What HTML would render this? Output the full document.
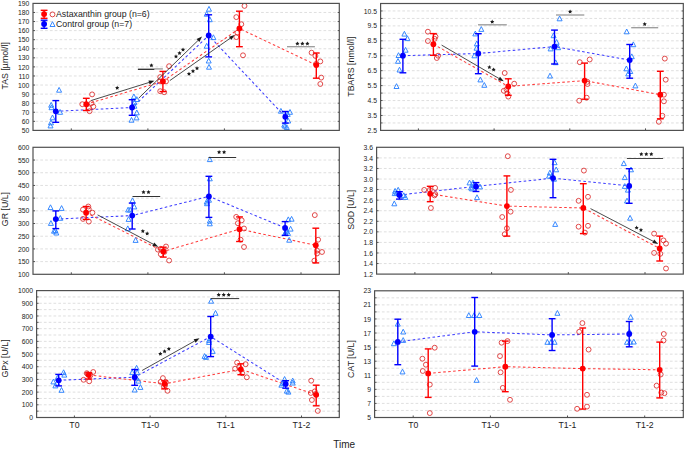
<!DOCTYPE html>
<html><head><meta charset="utf-8"><style>
html,body{margin:0;padding:0;background:#fff;overflow:hidden;}
svg{display:block;font-family:"Liberation Sans", sans-serif;}
</style></head><body>
<svg width="685" height="449" viewBox="0 0 685 449">
<rect width="685" height="449" fill="#fff"/>
<line x1="35.5" y1="121.33" x2="337.8" y2="121.33" stroke="#dbdbdb" stroke-width="0.9" stroke-dasharray="2.7 2.1"/>
<line x1="33.0" y1="121.33" x2="35.0" y2="121.33" stroke="#505050" stroke-width="1"/>
<line x1="337.7" y1="121.33" x2="339.3" y2="121.33" stroke="#505050" stroke-width="1"/>
<line x1="35.5" y1="112.26" x2="337.8" y2="112.26" stroke="#dbdbdb" stroke-width="0.9" stroke-dasharray="2.7 2.1"/>
<line x1="33.0" y1="112.26" x2="35.0" y2="112.26" stroke="#505050" stroke-width="1"/>
<line x1="337.7" y1="112.26" x2="339.3" y2="112.26" stroke="#505050" stroke-width="1"/>
<line x1="35.5" y1="103.19" x2="337.8" y2="103.19" stroke="#dbdbdb" stroke-width="0.9" stroke-dasharray="2.7 2.1"/>
<line x1="33.0" y1="103.19" x2="35.0" y2="103.19" stroke="#505050" stroke-width="1"/>
<line x1="337.7" y1="103.19" x2="339.3" y2="103.19" stroke="#505050" stroke-width="1"/>
<line x1="35.5" y1="94.11" x2="337.8" y2="94.11" stroke="#dbdbdb" stroke-width="0.9" stroke-dasharray="2.7 2.1"/>
<line x1="33.0" y1="94.11" x2="35.0" y2="94.11" stroke="#505050" stroke-width="1"/>
<line x1="337.7" y1="94.11" x2="339.3" y2="94.11" stroke="#505050" stroke-width="1"/>
<line x1="35.5" y1="85.04" x2="337.8" y2="85.04" stroke="#dbdbdb" stroke-width="0.9" stroke-dasharray="2.7 2.1"/>
<line x1="33.0" y1="85.04" x2="35.0" y2="85.04" stroke="#505050" stroke-width="1"/>
<line x1="337.7" y1="85.04" x2="339.3" y2="85.04" stroke="#505050" stroke-width="1"/>
<line x1="35.5" y1="75.97" x2="337.8" y2="75.97" stroke="#dbdbdb" stroke-width="0.9" stroke-dasharray="2.7 2.1"/>
<line x1="33.0" y1="75.97" x2="35.0" y2="75.97" stroke="#505050" stroke-width="1"/>
<line x1="337.7" y1="75.97" x2="339.3" y2="75.97" stroke="#505050" stroke-width="1"/>
<line x1="35.5" y1="66.90" x2="337.8" y2="66.90" stroke="#dbdbdb" stroke-width="0.9" stroke-dasharray="2.7 2.1"/>
<line x1="33.0" y1="66.90" x2="35.0" y2="66.90" stroke="#505050" stroke-width="1"/>
<line x1="337.7" y1="66.90" x2="339.3" y2="66.90" stroke="#505050" stroke-width="1"/>
<line x1="35.5" y1="57.83" x2="337.8" y2="57.83" stroke="#dbdbdb" stroke-width="0.9" stroke-dasharray="2.7 2.1"/>
<line x1="33.0" y1="57.83" x2="35.0" y2="57.83" stroke="#505050" stroke-width="1"/>
<line x1="337.7" y1="57.83" x2="339.3" y2="57.83" stroke="#505050" stroke-width="1"/>
<line x1="35.5" y1="48.76" x2="337.8" y2="48.76" stroke="#dbdbdb" stroke-width="0.9" stroke-dasharray="2.7 2.1"/>
<line x1="33.0" y1="48.76" x2="35.0" y2="48.76" stroke="#505050" stroke-width="1"/>
<line x1="337.7" y1="48.76" x2="339.3" y2="48.76" stroke="#505050" stroke-width="1"/>
<line x1="35.5" y1="39.69" x2="337.8" y2="39.69" stroke="#dbdbdb" stroke-width="0.9" stroke-dasharray="2.7 2.1"/>
<line x1="33.0" y1="39.69" x2="35.0" y2="39.69" stroke="#505050" stroke-width="1"/>
<line x1="337.7" y1="39.69" x2="339.3" y2="39.69" stroke="#505050" stroke-width="1"/>
<line x1="35.5" y1="30.61" x2="337.8" y2="30.61" stroke="#dbdbdb" stroke-width="0.9" stroke-dasharray="2.7 2.1"/>
<line x1="33.0" y1="30.61" x2="35.0" y2="30.61" stroke="#505050" stroke-width="1"/>
<line x1="337.7" y1="30.61" x2="339.3" y2="30.61" stroke="#505050" stroke-width="1"/>
<line x1="35.5" y1="21.54" x2="337.8" y2="21.54" stroke="#dbdbdb" stroke-width="0.9" stroke-dasharray="2.7 2.1"/>
<line x1="33.0" y1="21.54" x2="35.0" y2="21.54" stroke="#505050" stroke-width="1"/>
<line x1="337.7" y1="21.54" x2="339.3" y2="21.54" stroke="#505050" stroke-width="1"/>
<line x1="35.5" y1="12.47" x2="337.8" y2="12.47" stroke="#dbdbdb" stroke-width="0.9" stroke-dasharray="2.7 2.1"/>
<line x1="33.0" y1="12.47" x2="35.0" y2="12.47" stroke="#505050" stroke-width="1"/>
<line x1="337.7" y1="12.47" x2="339.3" y2="12.47" stroke="#505050" stroke-width="1"/>
<text x="29.4" y="133.00" text-anchor="end" font-size="6.8" fill="#1c1c1c">50</text>
<text x="29.4" y="123.93" text-anchor="end" font-size="6.8" fill="#1c1c1c">60</text>
<text x="29.4" y="114.86" text-anchor="end" font-size="6.8" fill="#1c1c1c">70</text>
<text x="29.4" y="105.79" text-anchor="end" font-size="6.8" fill="#1c1c1c">80</text>
<text x="29.4" y="96.71" text-anchor="end" font-size="6.8" fill="#1c1c1c">90</text>
<text x="29.4" y="87.64" text-anchor="end" font-size="6.8" fill="#1c1c1c">100</text>
<text x="29.4" y="78.57" text-anchor="end" font-size="6.8" fill="#1c1c1c">110</text>
<text x="29.4" y="69.50" text-anchor="end" font-size="6.8" fill="#1c1c1c">120</text>
<text x="29.4" y="60.43" text-anchor="end" font-size="6.8" fill="#1c1c1c">130</text>
<text x="29.4" y="51.36" text-anchor="end" font-size="6.8" fill="#1c1c1c">140</text>
<text x="29.4" y="42.29" text-anchor="end" font-size="6.8" fill="#1c1c1c">150</text>
<text x="29.4" y="33.21" text-anchor="end" font-size="6.8" fill="#1c1c1c">160</text>
<text x="29.4" y="24.14" text-anchor="end" font-size="6.8" fill="#1c1c1c">170</text>
<text x="29.4" y="15.07" text-anchor="end" font-size="6.8" fill="#1c1c1c">180</text>
<text x="29.4" y="6.00" text-anchor="end" font-size="6.8" fill="#1c1c1c">190</text>
<line x1="71.3" y1="128.4" x2="71.3" y2="130.4" stroke="#505050" stroke-width="1"/>
<line x1="147.9" y1="128.4" x2="147.9" y2="130.4" stroke="#505050" stroke-width="1"/>
<line x1="224.4" y1="128.4" x2="224.4" y2="130.4" stroke="#505050" stroke-width="1"/>
<line x1="301.0" y1="128.4" x2="301.0" y2="130.4" stroke="#505050" stroke-width="1"/>
<text x="8.4" y="65.8" transform="rotate(-90 8.4 65.8)" text-anchor="middle" font-size="8.8" fill="#1c1c1c">TAS [µmol/l]</text>
<polyline points="55.80,111.30 132.10,107.50 208.70,35.50 285.30,116.80" fill="none" stroke="#3c3cff" stroke-width="1.05" stroke-dasharray="2.6 2.4"/>
<polyline points="86.30,104.20 162.90,81.40 239.40,28.50 316.30,65.10" fill="none" stroke="#ff3c3c" stroke-width="1.05" stroke-dasharray="2.6 2.4"/>
<path d="M59.10 87.40L61.60 92.20L56.60 92.20Z" fill="none" stroke="#2d83ff" stroke-width="0.95" stroke-linejoin="miter"/>
<path d="M51.20 102.40L53.70 107.20L48.70 107.20Z" fill="none" stroke="#2d83ff" stroke-width="0.95" stroke-linejoin="miter"/>
<path d="M51.50 104.90L54.00 109.70L49.00 109.70Z" fill="none" stroke="#2d83ff" stroke-width="0.95" stroke-linejoin="miter"/>
<path d="M60.10 109.50L62.60 114.30L57.60 114.30Z" fill="none" stroke="#2d83ff" stroke-width="0.95" stroke-linejoin="miter"/>
<path d="M52.50 115.00L55.00 119.80L50.00 119.80Z" fill="none" stroke="#2d83ff" stroke-width="0.95" stroke-linejoin="miter"/>
<path d="M51.00 120.00L53.50 124.80L48.50 124.80Z" fill="none" stroke="#2d83ff" stroke-width="0.95" stroke-linejoin="miter"/>
<path d="M50.50 123.10L53.00 127.90L48.00 127.90Z" fill="none" stroke="#2d83ff" stroke-width="0.95" stroke-linejoin="miter"/>
<circle cx="92.10" cy="94.40" r="2.45" fill="none" stroke="#dc2b2b" stroke-width="0.85"/>
<circle cx="82.30" cy="104.20" r="2.45" fill="none" stroke="#dc2b2b" stroke-width="0.85"/>
<circle cx="91.50" cy="103.20" r="2.45" fill="none" stroke="#dc2b2b" stroke-width="0.85"/>
<circle cx="93.30" cy="106.60" r="2.45" fill="none" stroke="#dc2b2b" stroke-width="0.85"/>
<circle cx="89.00" cy="108.10" r="2.45" fill="none" stroke="#dc2b2b" stroke-width="0.85"/>
<circle cx="89.60" cy="111.20" r="2.45" fill="none" stroke="#dc2b2b" stroke-width="0.85"/>
<path d="M133.90 94.00L136.40 98.80L131.40 98.80Z" fill="none" stroke="#2d83ff" stroke-width="0.95" stroke-linejoin="miter"/>
<path d="M136.80 96.70L139.30 101.50L134.30 101.50Z" fill="none" stroke="#2d83ff" stroke-width="0.95" stroke-linejoin="miter"/>
<path d="M134.40 99.90L136.90 104.70L131.90 104.70Z" fill="none" stroke="#2d83ff" stroke-width="0.95" stroke-linejoin="miter"/>
<path d="M134.40 103.40L136.90 108.20L131.90 108.20Z" fill="none" stroke="#2d83ff" stroke-width="0.95" stroke-linejoin="miter"/>
<path d="M136.80 110.00L139.30 114.80L134.30 114.80Z" fill="none" stroke="#2d83ff" stroke-width="0.95" stroke-linejoin="miter"/>
<path d="M136.50 115.10L139.00 119.90L134.00 119.90Z" fill="none" stroke="#2d83ff" stroke-width="0.95" stroke-linejoin="miter"/>
<path d="M131.50 117.40L134.00 122.20L129.00 122.20Z" fill="none" stroke="#2d83ff" stroke-width="0.95" stroke-linejoin="miter"/>
<circle cx="169.10" cy="66.20" r="2.45" fill="none" stroke="#dc2b2b" stroke-width="0.85"/>
<circle cx="160.20" cy="77.10" r="2.45" fill="none" stroke="#dc2b2b" stroke-width="0.85"/>
<circle cx="166.00" cy="81.40" r="2.45" fill="none" stroke="#dc2b2b" stroke-width="0.85"/>
<circle cx="160.00" cy="81.40" r="2.45" fill="none" stroke="#dc2b2b" stroke-width="0.85"/>
<circle cx="160.20" cy="91.20" r="2.45" fill="none" stroke="#dc2b2b" stroke-width="0.85"/>
<circle cx="164.20" cy="92.20" r="2.45" fill="none" stroke="#dc2b2b" stroke-width="0.85"/>
<path d="M209.00 6.40L211.50 11.20L206.50 11.20Z" fill="none" stroke="#2d83ff" stroke-width="0.95" stroke-linejoin="miter"/>
<path d="M206.70 11.40L209.20 16.20L204.20 16.20Z" fill="none" stroke="#2d83ff" stroke-width="0.95" stroke-linejoin="miter"/>
<path d="M209.80 16.90L212.30 21.70L207.30 21.70Z" fill="none" stroke="#2d83ff" stroke-width="0.95" stroke-linejoin="miter"/>
<path d="M213.40 34.80L215.90 39.60L210.90 39.60Z" fill="none" stroke="#2d83ff" stroke-width="0.95" stroke-linejoin="miter"/>
<path d="M206.70 43.40L209.20 48.20L204.20 48.20Z" fill="none" stroke="#2d83ff" stroke-width="0.95" stroke-linejoin="miter"/>
<path d="M208.70 58.20L211.20 63.00L206.20 63.00Z" fill="none" stroke="#2d83ff" stroke-width="0.95" stroke-linejoin="miter"/>
<path d="M209.00 64.40L211.50 69.20L206.50 69.20Z" fill="none" stroke="#2d83ff" stroke-width="0.95" stroke-linejoin="miter"/>
<circle cx="244.50" cy="5.90" r="2.45" fill="none" stroke="#dc2b2b" stroke-width="0.85"/>
<circle cx="236.30" cy="17.10" r="2.45" fill="none" stroke="#dc2b2b" stroke-width="0.85"/>
<circle cx="241.30" cy="24.20" r="2.45" fill="none" stroke="#dc2b2b" stroke-width="0.85"/>
<circle cx="237.40" cy="32.70" r="2.45" fill="none" stroke="#dc2b2b" stroke-width="0.85"/>
<circle cx="236.30" cy="37.10" r="2.45" fill="none" stroke="#dc2b2b" stroke-width="0.85"/>
<circle cx="243.00" cy="55.30" r="2.45" fill="none" stroke="#dc2b2b" stroke-width="0.85"/>
<path d="M280.90 108.40L283.40 113.20L278.40 113.20Z" fill="none" stroke="#2d83ff" stroke-width="0.95" stroke-linejoin="miter"/>
<path d="M290.00 109.50L292.50 114.30L287.50 114.30Z" fill="none" stroke="#2d83ff" stroke-width="0.95" stroke-linejoin="miter"/>
<path d="M287.70 111.60L290.20 116.40L285.20 116.40Z" fill="none" stroke="#2d83ff" stroke-width="0.95" stroke-linejoin="miter"/>
<path d="M288.20 118.20L290.70 123.00L285.70 123.00Z" fill="none" stroke="#2d83ff" stroke-width="0.95" stroke-linejoin="miter"/>
<path d="M284.20 122.30L286.70 127.10L281.70 127.10Z" fill="none" stroke="#2d83ff" stroke-width="0.95" stroke-linejoin="miter"/>
<path d="M286.80 124.70L289.30 129.50L284.30 129.50Z" fill="none" stroke="#2d83ff" stroke-width="0.95" stroke-linejoin="miter"/>
<path d="M285.00 123.40L287.50 128.20L282.50 128.20Z" fill="none" stroke="#2d83ff" stroke-width="0.95" stroke-linejoin="miter"/>
<circle cx="311.60" cy="52.70" r="2.45" fill="none" stroke="#dc2b2b" stroke-width="0.85"/>
<circle cx="315.40" cy="55.90" r="2.45" fill="none" stroke="#dc2b2b" stroke-width="0.85"/>
<circle cx="320.30" cy="61.40" r="2.45" fill="none" stroke="#dc2b2b" stroke-width="0.85"/>
<circle cx="321.20" cy="77.60" r="2.45" fill="none" stroke="#dc2b2b" stroke-width="0.85"/>
<circle cx="320.30" cy="84.00" r="2.45" fill="none" stroke="#dc2b2b" stroke-width="0.85"/>
<circle cx="316.00" cy="64.00" r="2.45" fill="none" stroke="#dc2b2b" stroke-width="0.85"/>
<line x1="55.80" y1="100.60" x2="55.80" y2="122.30" stroke="#0000ff" stroke-width="1.4"/><line x1="52.40" y1="100.60" x2="59.20" y2="100.60" stroke="#0000ff" stroke-width="1.4"/><line x1="52.40" y1="122.30" x2="59.20" y2="122.30" stroke="#0000ff" stroke-width="1.4"/>
<circle cx="55.80" cy="111.30" r="2.9" fill="#0000ff"/>
<line x1="86.30" y1="98.30" x2="86.30" y2="110.50" stroke="#ff0000" stroke-width="1.4"/><line x1="82.90" y1="98.30" x2="89.70" y2="98.30" stroke="#ff0000" stroke-width="1.4"/><line x1="82.90" y1="110.50" x2="89.70" y2="110.50" stroke="#ff0000" stroke-width="1.4"/>
<circle cx="86.30" cy="104.20" r="2.9" fill="#ff0000"/>
<line x1="132.10" y1="99.70" x2="132.10" y2="115.30" stroke="#0000ff" stroke-width="1.4"/><line x1="128.70" y1="99.70" x2="135.50" y2="99.70" stroke="#0000ff" stroke-width="1.4"/><line x1="128.70" y1="115.30" x2="135.50" y2="115.30" stroke="#0000ff" stroke-width="1.4"/>
<circle cx="132.10" cy="107.50" r="2.9" fill="#0000ff"/>
<line x1="162.90" y1="71.40" x2="162.90" y2="91.60" stroke="#ff0000" stroke-width="1.4"/><line x1="159.50" y1="71.40" x2="166.30" y2="71.40" stroke="#ff0000" stroke-width="1.4"/><line x1="159.50" y1="91.60" x2="166.30" y2="91.60" stroke="#ff0000" stroke-width="1.4"/>
<circle cx="162.90" cy="81.40" r="2.9" fill="#ff0000"/>
<line x1="208.70" y1="14.80" x2="208.70" y2="56.90" stroke="#0000ff" stroke-width="1.4"/><line x1="205.30" y1="14.80" x2="212.10" y2="14.80" stroke="#0000ff" stroke-width="1.4"/><line x1="205.30" y1="56.90" x2="212.10" y2="56.90" stroke="#0000ff" stroke-width="1.4"/>
<circle cx="208.70" cy="35.50" r="2.9" fill="#0000ff"/>
<line x1="239.40" y1="11.20" x2="239.40" y2="46.70" stroke="#ff0000" stroke-width="1.4"/><line x1="236.00" y1="11.20" x2="242.80" y2="11.20" stroke="#ff0000" stroke-width="1.4"/><line x1="236.00" y1="46.70" x2="242.80" y2="46.70" stroke="#ff0000" stroke-width="1.4"/>
<circle cx="239.40" cy="28.50" r="2.9" fill="#ff0000"/>
<line x1="285.30" y1="111.50" x2="285.30" y2="123.10" stroke="#0000ff" stroke-width="1.4"/><line x1="281.90" y1="111.50" x2="288.70" y2="111.50" stroke="#0000ff" stroke-width="1.4"/><line x1="281.90" y1="123.10" x2="288.70" y2="123.10" stroke="#0000ff" stroke-width="1.4"/>
<circle cx="285.30" cy="116.80" r="2.9" fill="#0000ff"/>
<line x1="316.30" y1="53.00" x2="316.30" y2="78.20" stroke="#ff0000" stroke-width="1.4"/><line x1="312.90" y1="53.00" x2="319.70" y2="53.00" stroke="#ff0000" stroke-width="1.4"/><line x1="312.90" y1="78.20" x2="319.70" y2="78.20" stroke="#ff0000" stroke-width="1.4"/>
<circle cx="316.30" cy="65.10" r="2.9" fill="#ff0000"/>
<rect x="33.0" y="3.4" width="306.3" height="127.0" fill="none" stroke="#505050" stroke-width="1.2"/>
<line x1="35.5" y1="261.61" x2="337.8" y2="261.61" stroke="#dbdbdb" stroke-width="0.9" stroke-dasharray="2.7 2.1"/>
<line x1="33.0" y1="261.61" x2="35.0" y2="261.61" stroke="#505050" stroke-width="1"/>
<line x1="337.7" y1="261.61" x2="339.3" y2="261.61" stroke="#505050" stroke-width="1"/>
<line x1="35.5" y1="248.91" x2="337.8" y2="248.91" stroke="#dbdbdb" stroke-width="0.9" stroke-dasharray="2.7 2.1"/>
<line x1="33.0" y1="248.91" x2="35.0" y2="248.91" stroke="#505050" stroke-width="1"/>
<line x1="337.7" y1="248.91" x2="339.3" y2="248.91" stroke="#505050" stroke-width="1"/>
<line x1="35.5" y1="236.22" x2="337.8" y2="236.22" stroke="#dbdbdb" stroke-width="0.9" stroke-dasharray="2.7 2.1"/>
<line x1="33.0" y1="236.22" x2="35.0" y2="236.22" stroke="#505050" stroke-width="1"/>
<line x1="337.7" y1="236.22" x2="339.3" y2="236.22" stroke="#505050" stroke-width="1"/>
<line x1="35.5" y1="223.52" x2="337.8" y2="223.52" stroke="#dbdbdb" stroke-width="0.9" stroke-dasharray="2.7 2.1"/>
<line x1="33.0" y1="223.52" x2="35.0" y2="223.52" stroke="#505050" stroke-width="1"/>
<line x1="337.7" y1="223.52" x2="339.3" y2="223.52" stroke="#505050" stroke-width="1"/>
<line x1="35.5" y1="210.82" x2="337.8" y2="210.82" stroke="#dbdbdb" stroke-width="0.9" stroke-dasharray="2.7 2.1"/>
<line x1="33.0" y1="210.82" x2="35.0" y2="210.82" stroke="#505050" stroke-width="1"/>
<line x1="337.7" y1="210.82" x2="339.3" y2="210.82" stroke="#505050" stroke-width="1"/>
<line x1="35.5" y1="198.13" x2="337.8" y2="198.13" stroke="#dbdbdb" stroke-width="0.9" stroke-dasharray="2.7 2.1"/>
<line x1="33.0" y1="198.13" x2="35.0" y2="198.13" stroke="#505050" stroke-width="1"/>
<line x1="337.7" y1="198.13" x2="339.3" y2="198.13" stroke="#505050" stroke-width="1"/>
<line x1="35.5" y1="185.44" x2="337.8" y2="185.44" stroke="#dbdbdb" stroke-width="0.9" stroke-dasharray="2.7 2.1"/>
<line x1="33.0" y1="185.44" x2="35.0" y2="185.44" stroke="#505050" stroke-width="1"/>
<line x1="337.7" y1="185.44" x2="339.3" y2="185.44" stroke="#505050" stroke-width="1"/>
<line x1="35.5" y1="172.74" x2="337.8" y2="172.74" stroke="#dbdbdb" stroke-width="0.9" stroke-dasharray="2.7 2.1"/>
<line x1="33.0" y1="172.74" x2="35.0" y2="172.74" stroke="#505050" stroke-width="1"/>
<line x1="337.7" y1="172.74" x2="339.3" y2="172.74" stroke="#505050" stroke-width="1"/>
<line x1="35.5" y1="160.04" x2="337.8" y2="160.04" stroke="#dbdbdb" stroke-width="0.9" stroke-dasharray="2.7 2.1"/>
<line x1="33.0" y1="160.04" x2="35.0" y2="160.04" stroke="#505050" stroke-width="1"/>
<line x1="337.7" y1="160.04" x2="339.3" y2="160.04" stroke="#505050" stroke-width="1"/>
<text x="29.4" y="276.90" text-anchor="end" font-size="6.8" fill="#1c1c1c">100</text>
<text x="29.4" y="264.21" text-anchor="end" font-size="6.8" fill="#1c1c1c">150</text>
<text x="29.4" y="251.51" text-anchor="end" font-size="6.8" fill="#1c1c1c">200</text>
<text x="29.4" y="238.81" text-anchor="end" font-size="6.8" fill="#1c1c1c">250</text>
<text x="29.4" y="226.12" text-anchor="end" font-size="6.8" fill="#1c1c1c">300</text>
<text x="29.4" y="213.42" text-anchor="end" font-size="6.8" fill="#1c1c1c">350</text>
<text x="29.4" y="200.73" text-anchor="end" font-size="6.8" fill="#1c1c1c">400</text>
<text x="29.4" y="188.03" text-anchor="end" font-size="6.8" fill="#1c1c1c">450</text>
<text x="29.4" y="175.34" text-anchor="end" font-size="6.8" fill="#1c1c1c">500</text>
<text x="29.4" y="162.64" text-anchor="end" font-size="6.8" fill="#1c1c1c">550</text>
<text x="29.4" y="149.95" text-anchor="end" font-size="6.8" fill="#1c1c1c">600</text>
<line x1="71.3" y1="272.3" x2="71.3" y2="274.3" stroke="#505050" stroke-width="1"/>
<line x1="147.9" y1="272.3" x2="147.9" y2="274.3" stroke="#505050" stroke-width="1"/>
<line x1="224.4" y1="272.3" x2="224.4" y2="274.3" stroke="#505050" stroke-width="1"/>
<line x1="301.0" y1="272.3" x2="301.0" y2="274.3" stroke="#505050" stroke-width="1"/>
<text x="8.4" y="209.1" transform="rotate(-90 8.4 209.1)" text-anchor="middle" font-size="8.8" fill="#1c1c1c">GR [U/L]</text>
<polyline points="55.80,219.10 132.20,215.60 208.90,196.40 285.10,227.90" fill="none" stroke="#3c3cff" stroke-width="1.05" stroke-dasharray="2.6 2.4"/>
<polyline points="86.10,212.70 163.30,251.40 239.50,229.20 315.80,245.20" fill="none" stroke="#ff3c3c" stroke-width="1.05" stroke-dasharray="2.6 2.4"/>
<path d="M50.50 204.80L53.00 209.60L48.00 209.60Z" fill="none" stroke="#2d83ff" stroke-width="0.95" stroke-linejoin="miter"/>
<path d="M61.60 205.60L64.10 210.40L59.10 210.40Z" fill="none" stroke="#2d83ff" stroke-width="0.95" stroke-linejoin="miter"/>
<path d="M60.30 215.50L62.80 220.30L57.80 220.30Z" fill="none" stroke="#2d83ff" stroke-width="0.95" stroke-linejoin="miter"/>
<path d="M50.90 220.60L53.40 225.40L48.40 225.40Z" fill="none" stroke="#2d83ff" stroke-width="0.95" stroke-linejoin="miter"/>
<path d="M54.00 228.40L56.50 233.20L51.50 233.20Z" fill="none" stroke="#2d83ff" stroke-width="0.95" stroke-linejoin="miter"/>
<path d="M56.30 230.20L58.80 235.00L53.80 235.00Z" fill="none" stroke="#2d83ff" stroke-width="0.95" stroke-linejoin="miter"/>
<path d="M55.40 227.90L57.90 232.70L52.90 232.70Z" fill="none" stroke="#2d83ff" stroke-width="0.95" stroke-linejoin="miter"/>
<circle cx="83.00" cy="209.60" r="2.45" fill="none" stroke="#dc2b2b" stroke-width="0.85"/>
<circle cx="88.30" cy="206.50" r="2.45" fill="none" stroke="#dc2b2b" stroke-width="0.85"/>
<circle cx="88.80" cy="209.10" r="2.45" fill="none" stroke="#dc2b2b" stroke-width="0.85"/>
<circle cx="92.40" cy="212.70" r="2.45" fill="none" stroke="#dc2b2b" stroke-width="0.85"/>
<circle cx="83.00" cy="218.90" r="2.45" fill="none" stroke="#dc2b2b" stroke-width="0.85"/>
<circle cx="88.80" cy="221.60" r="2.45" fill="none" stroke="#dc2b2b" stroke-width="0.85"/>
<path d="M132.50 197.90L135.00 202.70L130.00 202.70Z" fill="none" stroke="#2d83ff" stroke-width="0.95" stroke-linejoin="miter"/>
<path d="M134.30 204.10L136.80 208.90L131.80 208.90Z" fill="none" stroke="#2d83ff" stroke-width="0.95" stroke-linejoin="miter"/>
<path d="M128.10 207.20L130.60 212.00L125.60 212.00Z" fill="none" stroke="#2d83ff" stroke-width="0.95" stroke-linejoin="miter"/>
<path d="M130.10 207.20L132.60 212.00L127.60 212.00Z" fill="none" stroke="#2d83ff" stroke-width="0.95" stroke-linejoin="miter"/>
<path d="M128.60 216.60L131.10 221.40L126.10 221.40Z" fill="none" stroke="#2d83ff" stroke-width="0.95" stroke-linejoin="miter"/>
<path d="M127.80 225.90L130.30 230.70L125.30 230.70Z" fill="none" stroke="#2d83ff" stroke-width="0.95" stroke-linejoin="miter"/>
<path d="M135.60 237.60L138.10 242.40L133.10 242.40Z" fill="none" stroke="#2d83ff" stroke-width="0.95" stroke-linejoin="miter"/>
<circle cx="157.90" cy="249.60" r="2.45" fill="none" stroke="#dc2b2b" stroke-width="0.85"/>
<circle cx="166.00" cy="246.50" r="2.45" fill="none" stroke="#dc2b2b" stroke-width="0.85"/>
<circle cx="160.80" cy="248.80" r="2.45" fill="none" stroke="#dc2b2b" stroke-width="0.85"/>
<circle cx="160.80" cy="254.20" r="2.45" fill="none" stroke="#dc2b2b" stroke-width="0.85"/>
<circle cx="164.40" cy="251.90" r="2.45" fill="none" stroke="#dc2b2b" stroke-width="0.85"/>
<circle cx="169.10" cy="260.50" r="2.45" fill="none" stroke="#dc2b2b" stroke-width="0.85"/>
<path d="M209.80 156.80L212.30 161.60L207.30 161.60Z" fill="none" stroke="#2d83ff" stroke-width="0.95" stroke-linejoin="miter"/>
<path d="M209.80 176.00L212.30 180.80L207.30 180.80Z" fill="none" stroke="#2d83ff" stroke-width="0.95" stroke-linejoin="miter"/>
<path d="M206.70 199.20L209.20 204.00L204.20 204.00Z" fill="none" stroke="#2d83ff" stroke-width="0.95" stroke-linejoin="miter"/>
<path d="M207.00 200.90L209.50 205.70L204.50 205.70Z" fill="none" stroke="#2d83ff" stroke-width="0.95" stroke-linejoin="miter"/>
<path d="M209.80 218.30L212.30 223.10L207.30 223.10Z" fill="none" stroke="#2d83ff" stroke-width="0.95" stroke-linejoin="miter"/>
<path d="M209.80 221.00L212.30 225.80L207.30 225.80Z" fill="none" stroke="#2d83ff" stroke-width="0.95" stroke-linejoin="miter"/>
<path d="M209.00 197.40L211.50 202.20L206.50 202.20Z" fill="none" stroke="#2d83ff" stroke-width="0.95" stroke-linejoin="miter"/>
<circle cx="236.20" cy="216.90" r="2.45" fill="none" stroke="#dc2b2b" stroke-width="0.85"/>
<circle cx="241.70" cy="220.30" r="2.45" fill="none" stroke="#dc2b2b" stroke-width="0.85"/>
<circle cx="237.90" cy="223.20" r="2.45" fill="none" stroke="#dc2b2b" stroke-width="0.85"/>
<circle cx="244.00" cy="228.50" r="2.45" fill="none" stroke="#dc2b2b" stroke-width="0.85"/>
<circle cx="240.60" cy="239.70" r="2.45" fill="none" stroke="#dc2b2b" stroke-width="0.85"/>
<circle cx="244.00" cy="247.00" r="2.45" fill="none" stroke="#dc2b2b" stroke-width="0.85"/>
<path d="M288.30 216.90L290.80 221.70L285.80 221.70Z" fill="none" stroke="#2d83ff" stroke-width="0.95" stroke-linejoin="miter"/>
<path d="M291.60 216.40L294.10 221.20L289.10 221.20Z" fill="none" stroke="#2d83ff" stroke-width="0.95" stroke-linejoin="miter"/>
<path d="M290.60 226.30L293.10 231.10L288.10 231.10Z" fill="none" stroke="#2d83ff" stroke-width="0.95" stroke-linejoin="miter"/>
<path d="M285.40 229.90L287.90 234.70L282.90 234.70Z" fill="none" stroke="#2d83ff" stroke-width="0.95" stroke-linejoin="miter"/>
<path d="M288.00 230.60L290.50 235.40L285.50 235.40Z" fill="none" stroke="#2d83ff" stroke-width="0.95" stroke-linejoin="miter"/>
<path d="M289.20 237.40L291.70 242.20L286.70 242.20Z" fill="none" stroke="#2d83ff" stroke-width="0.95" stroke-linejoin="miter"/>
<path d="M286.50 228.40L289.00 233.20L284.00 233.20Z" fill="none" stroke="#2d83ff" stroke-width="0.95" stroke-linejoin="miter"/>
<circle cx="314.80" cy="215.10" r="2.45" fill="none" stroke="#dc2b2b" stroke-width="0.85"/>
<circle cx="318.10" cy="239.70" r="2.45" fill="none" stroke="#dc2b2b" stroke-width="0.85"/>
<circle cx="317.00" cy="250.60" r="2.45" fill="none" stroke="#dc2b2b" stroke-width="0.85"/>
<circle cx="322.00" cy="252.00" r="2.45" fill="none" stroke="#dc2b2b" stroke-width="0.85"/>
<circle cx="317.00" cy="253.50" r="2.45" fill="none" stroke="#dc2b2b" stroke-width="0.85"/>
<circle cx="314.40" cy="260.70" r="2.45" fill="none" stroke="#dc2b2b" stroke-width="0.85"/>
<line x1="55.80" y1="210.90" x2="55.80" y2="228.60" stroke="#0000ff" stroke-width="1.4"/><line x1="52.40" y1="210.90" x2="59.20" y2="210.90" stroke="#0000ff" stroke-width="1.4"/><line x1="52.40" y1="228.60" x2="59.20" y2="228.60" stroke="#0000ff" stroke-width="1.4"/>
<circle cx="55.80" cy="219.10" r="2.9" fill="#0000ff"/>
<line x1="86.10" y1="206.50" x2="86.10" y2="219.40" stroke="#ff0000" stroke-width="1.4"/><line x1="82.70" y1="206.50" x2="89.50" y2="206.50" stroke="#ff0000" stroke-width="1.4"/><line x1="82.70" y1="219.40" x2="89.50" y2="219.40" stroke="#ff0000" stroke-width="1.4"/>
<circle cx="86.10" cy="212.70" r="2.9" fill="#ff0000"/>
<line x1="132.20" y1="203.10" x2="132.20" y2="229.00" stroke="#0000ff" stroke-width="1.4"/><line x1="128.80" y1="203.10" x2="135.60" y2="203.10" stroke="#0000ff" stroke-width="1.4"/><line x1="128.80" y1="229.00" x2="135.60" y2="229.00" stroke="#0000ff" stroke-width="1.4"/>
<circle cx="132.20" cy="215.60" r="2.9" fill="#0000ff"/>
<line x1="163.30" y1="247.20" x2="163.30" y2="257.10" stroke="#ff0000" stroke-width="1.4"/><line x1="159.90" y1="247.20" x2="166.70" y2="247.20" stroke="#ff0000" stroke-width="1.4"/><line x1="159.90" y1="257.10" x2="166.70" y2="257.10" stroke="#ff0000" stroke-width="1.4"/>
<circle cx="163.30" cy="251.40" r="2.9" fill="#ff0000"/>
<line x1="208.90" y1="176.30" x2="208.90" y2="217.40" stroke="#0000ff" stroke-width="1.4"/><line x1="205.50" y1="176.30" x2="212.30" y2="176.30" stroke="#0000ff" stroke-width="1.4"/><line x1="205.50" y1="217.40" x2="212.30" y2="217.40" stroke="#0000ff" stroke-width="1.4"/>
<circle cx="208.90" cy="196.40" r="2.9" fill="#0000ff"/>
<line x1="239.50" y1="216.90" x2="239.50" y2="241.50" stroke="#ff0000" stroke-width="1.4"/><line x1="236.10" y1="216.90" x2="242.90" y2="216.90" stroke="#ff0000" stroke-width="1.4"/><line x1="236.10" y1="241.50" x2="242.90" y2="241.50" stroke="#ff0000" stroke-width="1.4"/>
<circle cx="239.50" cy="229.20" r="2.9" fill="#ff0000"/>
<line x1="285.10" y1="221.60" x2="285.10" y2="235.40" stroke="#0000ff" stroke-width="1.4"/><line x1="281.70" y1="221.60" x2="288.50" y2="221.60" stroke="#0000ff" stroke-width="1.4"/><line x1="281.70" y1="235.40" x2="288.50" y2="235.40" stroke="#0000ff" stroke-width="1.4"/>
<circle cx="285.10" cy="227.90" r="2.9" fill="#0000ff"/>
<line x1="315.80" y1="228.20" x2="315.80" y2="262.90" stroke="#ff0000" stroke-width="1.4"/><line x1="312.40" y1="228.20" x2="319.20" y2="228.20" stroke="#ff0000" stroke-width="1.4"/><line x1="312.40" y1="262.90" x2="319.20" y2="262.90" stroke="#ff0000" stroke-width="1.4"/>
<circle cx="315.80" cy="245.20" r="2.9" fill="#ff0000"/>
<rect x="33.0" y="147.3" width="306.3" height="127.0" fill="none" stroke="#505050" stroke-width="1.2"/>
<line x1="39.1" y1="411.15" x2="337.8" y2="411.15" stroke="#dbdbdb" stroke-width="0.9" stroke-dasharray="2.7 2.1"/>
<line x1="36.6" y1="411.15" x2="38.6" y2="411.15" stroke="#505050" stroke-width="1"/>
<line x1="337.7" y1="411.15" x2="339.3" y2="411.15" stroke="#505050" stroke-width="1"/>
<line x1="39.1" y1="404.81" x2="337.8" y2="404.81" stroke="#dbdbdb" stroke-width="0.9" stroke-dasharray="2.7 2.1"/>
<line x1="36.6" y1="404.81" x2="38.6" y2="404.81" stroke="#505050" stroke-width="1"/>
<line x1="337.7" y1="404.81" x2="339.3" y2="404.81" stroke="#505050" stroke-width="1"/>
<line x1="39.1" y1="398.47" x2="337.8" y2="398.47" stroke="#dbdbdb" stroke-width="0.9" stroke-dasharray="2.7 2.1"/>
<line x1="36.6" y1="398.47" x2="38.6" y2="398.47" stroke="#505050" stroke-width="1"/>
<line x1="337.7" y1="398.47" x2="339.3" y2="398.47" stroke="#505050" stroke-width="1"/>
<line x1="39.1" y1="392.12" x2="337.8" y2="392.12" stroke="#dbdbdb" stroke-width="0.9" stroke-dasharray="2.7 2.1"/>
<line x1="36.6" y1="392.12" x2="38.6" y2="392.12" stroke="#505050" stroke-width="1"/>
<line x1="337.7" y1="392.12" x2="339.3" y2="392.12" stroke="#505050" stroke-width="1"/>
<line x1="39.1" y1="385.77" x2="337.8" y2="385.77" stroke="#dbdbdb" stroke-width="0.9" stroke-dasharray="2.7 2.1"/>
<line x1="36.6" y1="385.77" x2="38.6" y2="385.77" stroke="#505050" stroke-width="1"/>
<line x1="337.7" y1="385.77" x2="339.3" y2="385.77" stroke="#505050" stroke-width="1"/>
<line x1="39.1" y1="379.43" x2="337.8" y2="379.43" stroke="#dbdbdb" stroke-width="0.9" stroke-dasharray="2.7 2.1"/>
<line x1="36.6" y1="379.43" x2="38.6" y2="379.43" stroke="#505050" stroke-width="1"/>
<line x1="337.7" y1="379.43" x2="339.3" y2="379.43" stroke="#505050" stroke-width="1"/>
<line x1="39.1" y1="373.09" x2="337.8" y2="373.09" stroke="#dbdbdb" stroke-width="0.9" stroke-dasharray="2.7 2.1"/>
<line x1="36.6" y1="373.09" x2="38.6" y2="373.09" stroke="#505050" stroke-width="1"/>
<line x1="337.7" y1="373.09" x2="339.3" y2="373.09" stroke="#505050" stroke-width="1"/>
<line x1="39.1" y1="366.74" x2="337.8" y2="366.74" stroke="#dbdbdb" stroke-width="0.9" stroke-dasharray="2.7 2.1"/>
<line x1="36.6" y1="366.74" x2="38.6" y2="366.74" stroke="#505050" stroke-width="1"/>
<line x1="337.7" y1="366.74" x2="339.3" y2="366.74" stroke="#505050" stroke-width="1"/>
<line x1="39.1" y1="360.39" x2="337.8" y2="360.39" stroke="#dbdbdb" stroke-width="0.9" stroke-dasharray="2.7 2.1"/>
<line x1="36.6" y1="360.39" x2="38.6" y2="360.39" stroke="#505050" stroke-width="1"/>
<line x1="337.7" y1="360.39" x2="339.3" y2="360.39" stroke="#505050" stroke-width="1"/>
<line x1="39.1" y1="354.05" x2="337.8" y2="354.05" stroke="#dbdbdb" stroke-width="0.9" stroke-dasharray="2.7 2.1"/>
<line x1="36.6" y1="354.05" x2="38.6" y2="354.05" stroke="#505050" stroke-width="1"/>
<line x1="337.7" y1="354.05" x2="339.3" y2="354.05" stroke="#505050" stroke-width="1"/>
<line x1="39.1" y1="347.71" x2="337.8" y2="347.71" stroke="#dbdbdb" stroke-width="0.9" stroke-dasharray="2.7 2.1"/>
<line x1="36.6" y1="347.71" x2="38.6" y2="347.71" stroke="#505050" stroke-width="1"/>
<line x1="337.7" y1="347.71" x2="339.3" y2="347.71" stroke="#505050" stroke-width="1"/>
<line x1="39.1" y1="341.36" x2="337.8" y2="341.36" stroke="#dbdbdb" stroke-width="0.9" stroke-dasharray="2.7 2.1"/>
<line x1="36.6" y1="341.36" x2="38.6" y2="341.36" stroke="#505050" stroke-width="1"/>
<line x1="337.7" y1="341.36" x2="339.3" y2="341.36" stroke="#505050" stroke-width="1"/>
<line x1="39.1" y1="335.01" x2="337.8" y2="335.01" stroke="#dbdbdb" stroke-width="0.9" stroke-dasharray="2.7 2.1"/>
<line x1="36.6" y1="335.01" x2="38.6" y2="335.01" stroke="#505050" stroke-width="1"/>
<line x1="337.7" y1="335.01" x2="339.3" y2="335.01" stroke="#505050" stroke-width="1"/>
<line x1="39.1" y1="328.67" x2="337.8" y2="328.67" stroke="#dbdbdb" stroke-width="0.9" stroke-dasharray="2.7 2.1"/>
<line x1="36.6" y1="328.67" x2="38.6" y2="328.67" stroke="#505050" stroke-width="1"/>
<line x1="337.7" y1="328.67" x2="339.3" y2="328.67" stroke="#505050" stroke-width="1"/>
<line x1="39.1" y1="322.33" x2="337.8" y2="322.33" stroke="#dbdbdb" stroke-width="0.9" stroke-dasharray="2.7 2.1"/>
<line x1="36.6" y1="322.33" x2="38.6" y2="322.33" stroke="#505050" stroke-width="1"/>
<line x1="337.7" y1="322.33" x2="339.3" y2="322.33" stroke="#505050" stroke-width="1"/>
<line x1="39.1" y1="315.98" x2="337.8" y2="315.98" stroke="#dbdbdb" stroke-width="0.9" stroke-dasharray="2.7 2.1"/>
<line x1="36.6" y1="315.98" x2="38.6" y2="315.98" stroke="#505050" stroke-width="1"/>
<line x1="337.7" y1="315.98" x2="339.3" y2="315.98" stroke="#505050" stroke-width="1"/>
<line x1="39.1" y1="309.63" x2="337.8" y2="309.63" stroke="#dbdbdb" stroke-width="0.9" stroke-dasharray="2.7 2.1"/>
<line x1="36.6" y1="309.63" x2="38.6" y2="309.63" stroke="#505050" stroke-width="1"/>
<line x1="337.7" y1="309.63" x2="339.3" y2="309.63" stroke="#505050" stroke-width="1"/>
<line x1="39.1" y1="303.29" x2="337.8" y2="303.29" stroke="#dbdbdb" stroke-width="0.9" stroke-dasharray="2.7 2.1"/>
<line x1="36.6" y1="303.29" x2="38.6" y2="303.29" stroke="#505050" stroke-width="1"/>
<line x1="337.7" y1="303.29" x2="339.3" y2="303.29" stroke="#505050" stroke-width="1"/>
<line x1="39.1" y1="296.95" x2="337.8" y2="296.95" stroke="#dbdbdb" stroke-width="0.9" stroke-dasharray="2.7 2.1"/>
<line x1="36.6" y1="296.95" x2="38.6" y2="296.95" stroke="#505050" stroke-width="1"/>
<line x1="337.7" y1="296.95" x2="339.3" y2="296.95" stroke="#505050" stroke-width="1"/>
<text x="33.0" y="420.10" text-anchor="end" font-size="6.8" fill="#1c1c1c">0</text>
<text x="33.0" y="407.41" text-anchor="end" font-size="6.8" fill="#1c1c1c">100</text>
<text x="33.0" y="394.72" text-anchor="end" font-size="6.8" fill="#1c1c1c">200</text>
<text x="33.0" y="382.03" text-anchor="end" font-size="6.8" fill="#1c1c1c">300</text>
<text x="33.0" y="369.34" text-anchor="end" font-size="6.8" fill="#1c1c1c">400</text>
<text x="33.0" y="356.65" text-anchor="end" font-size="6.8" fill="#1c1c1c">500</text>
<text x="33.0" y="343.96" text-anchor="end" font-size="6.8" fill="#1c1c1c">600</text>
<text x="33.0" y="331.27" text-anchor="end" font-size="6.8" fill="#1c1c1c">700</text>
<text x="33.0" y="318.58" text-anchor="end" font-size="6.8" fill="#1c1c1c">800</text>
<text x="33.0" y="305.89" text-anchor="end" font-size="6.8" fill="#1c1c1c">900</text>
<text x="33.0" y="293.20" text-anchor="end" font-size="6.8" fill="#1c1c1c">1000</text>
<line x1="74.4" y1="415.5" x2="74.4" y2="417.5" stroke="#505050" stroke-width="1"/>
<line x1="150.1" y1="415.5" x2="150.1" y2="417.5" stroke="#505050" stroke-width="1"/>
<line x1="225.8" y1="415.5" x2="225.8" y2="417.5" stroke="#505050" stroke-width="1"/>
<line x1="301.5" y1="415.5" x2="301.5" y2="417.5" stroke="#505050" stroke-width="1"/>
<text x="8.4" y="358.5" transform="rotate(-90 8.4 358.5)" text-anchor="middle" font-size="8.8" fill="#1c1c1c">GPx [U/L]</text>
<polyline points="58.70,380.30 134.70,377.20 210.70,336.60 285.70,383.90" fill="none" stroke="#3c3cff" stroke-width="1.05" stroke-dasharray="2.6 2.4"/>
<polyline points="88.80,374.90 164.60,383.80 240.80,369.30 316.20,394.80" fill="none" stroke="#ff3c3c" stroke-width="1.05" stroke-dasharray="2.6 2.4"/>
<path d="M63.60 369.80L66.10 374.60L61.10 374.60Z" fill="none" stroke="#2d83ff" stroke-width="0.95" stroke-linejoin="miter"/>
<path d="M64.30 372.30L66.80 377.10L61.80 377.10Z" fill="none" stroke="#2d83ff" stroke-width="0.95" stroke-linejoin="miter"/>
<path d="M53.40 379.10L55.90 383.90L50.90 383.90Z" fill="none" stroke="#2d83ff" stroke-width="0.95" stroke-linejoin="miter"/>
<path d="M57.00 380.40L59.50 385.20L54.50 385.20Z" fill="none" stroke="#2d83ff" stroke-width="0.95" stroke-linejoin="miter"/>
<path d="M55.40 383.10L57.90 387.90L52.90 387.90Z" fill="none" stroke="#2d83ff" stroke-width="0.95" stroke-linejoin="miter"/>
<path d="M61.50 387.50L64.00 392.30L59.00 392.30Z" fill="none" stroke="#2d83ff" stroke-width="0.95" stroke-linejoin="miter"/>
<path d="M57.40 375.40L59.90 380.20L54.90 380.20Z" fill="none" stroke="#2d83ff" stroke-width="0.95" stroke-linejoin="miter"/>
<circle cx="93.20" cy="372.00" r="2.45" fill="none" stroke="#dc2b2b" stroke-width="0.85"/>
<circle cx="87.60" cy="374.00" r="2.45" fill="none" stroke="#dc2b2b" stroke-width="0.85"/>
<circle cx="90.40" cy="375.30" r="2.45" fill="none" stroke="#dc2b2b" stroke-width="0.85"/>
<circle cx="83.60" cy="379.80" r="2.45" fill="none" stroke="#dc2b2b" stroke-width="0.85"/>
<circle cx="89.20" cy="381.30" r="2.45" fill="none" stroke="#dc2b2b" stroke-width="0.85"/>
<circle cx="86.80" cy="373.20" r="2.45" fill="none" stroke="#dc2b2b" stroke-width="0.85"/>
<path d="M136.60 365.30L139.10 370.10L134.10 370.10Z" fill="none" stroke="#2d83ff" stroke-width="0.95" stroke-linejoin="miter"/>
<path d="M132.20 369.80L134.70 374.60L129.70 374.60Z" fill="none" stroke="#2d83ff" stroke-width="0.95" stroke-linejoin="miter"/>
<path d="M137.20 369.80L139.70 374.60L134.70 374.60Z" fill="none" stroke="#2d83ff" stroke-width="0.95" stroke-linejoin="miter"/>
<path d="M138.50 378.30L141.00 383.10L136.00 383.10Z" fill="none" stroke="#2d83ff" stroke-width="0.95" stroke-linejoin="miter"/>
<path d="M140.40 384.60L142.90 389.40L137.90 389.40Z" fill="none" stroke="#2d83ff" stroke-width="0.95" stroke-linejoin="miter"/>
<path d="M134.70 387.20L137.20 392.00L132.20 392.00Z" fill="none" stroke="#2d83ff" stroke-width="0.95" stroke-linejoin="miter"/>
<path d="M136.50 375.40L139.00 380.20L134.00 380.20Z" fill="none" stroke="#2d83ff" stroke-width="0.95" stroke-linejoin="miter"/>
<circle cx="162.90" cy="378.10" r="2.45" fill="none" stroke="#dc2b2b" stroke-width="0.85"/>
<circle cx="160.70" cy="381.90" r="2.45" fill="none" stroke="#dc2b2b" stroke-width="0.85"/>
<circle cx="165.80" cy="381.90" r="2.45" fill="none" stroke="#dc2b2b" stroke-width="0.85"/>
<circle cx="163.90" cy="386.40" r="2.45" fill="none" stroke="#dc2b2b" stroke-width="0.85"/>
<circle cx="167.50" cy="390.80" r="2.45" fill="none" stroke="#dc2b2b" stroke-width="0.85"/>
<circle cx="165.20" cy="385.10" r="2.45" fill="none" stroke="#dc2b2b" stroke-width="0.85"/>
<path d="M211.10 298.40L213.60 303.20L208.60 303.20Z" fill="none" stroke="#2d83ff" stroke-width="0.95" stroke-linejoin="miter"/>
<path d="M215.50 310.50L218.00 315.30L213.00 315.30Z" fill="none" stroke="#2d83ff" stroke-width="0.95" stroke-linejoin="miter"/>
<path d="M209.00 339.60L211.50 344.40L206.50 344.40Z" fill="none" stroke="#2d83ff" stroke-width="0.95" stroke-linejoin="miter"/>
<path d="M212.70 348.60L215.20 353.40L210.20 353.40Z" fill="none" stroke="#2d83ff" stroke-width="0.95" stroke-linejoin="miter"/>
<path d="M204.60 353.60L207.10 358.40L202.10 358.40Z" fill="none" stroke="#2d83ff" stroke-width="0.95" stroke-linejoin="miter"/>
<path d="M206.00 354.60L208.50 359.40L203.50 359.40Z" fill="none" stroke="#2d83ff" stroke-width="0.95" stroke-linejoin="miter"/>
<path d="M209.00 337.60L211.50 342.40L206.50 342.40Z" fill="none" stroke="#2d83ff" stroke-width="0.95" stroke-linejoin="miter"/>
<circle cx="237.10" cy="362.60" r="2.45" fill="none" stroke="#dc2b2b" stroke-width="0.85"/>
<circle cx="245.60" cy="364.20" r="2.45" fill="none" stroke="#dc2b2b" stroke-width="0.85"/>
<circle cx="235.10" cy="368.70" r="2.45" fill="none" stroke="#dc2b2b" stroke-width="0.85"/>
<circle cx="242.20" cy="373.30" r="2.45" fill="none" stroke="#dc2b2b" stroke-width="0.85"/>
<circle cx="246.80" cy="377.30" r="2.45" fill="none" stroke="#dc2b2b" stroke-width="0.85"/>
<circle cx="239.20" cy="367.30" r="2.45" fill="none" stroke="#dc2b2b" stroke-width="0.85"/>
<path d="M284.60 376.50L287.10 381.30L282.10 381.30Z" fill="none" stroke="#2d83ff" stroke-width="0.95" stroke-linejoin="miter"/>
<path d="M292.70 378.10L295.20 382.90L290.20 382.90Z" fill="none" stroke="#2d83ff" stroke-width="0.95" stroke-linejoin="miter"/>
<path d="M292.70 380.20L295.20 385.00L290.20 385.00Z" fill="none" stroke="#2d83ff" stroke-width="0.95" stroke-linejoin="miter"/>
<path d="M281.40 382.40L283.90 387.20L278.90 387.20Z" fill="none" stroke="#2d83ff" stroke-width="0.95" stroke-linejoin="miter"/>
<path d="M286.80 388.30L289.30 393.10L284.30 393.10Z" fill="none" stroke="#2d83ff" stroke-width="0.95" stroke-linejoin="miter"/>
<path d="M288.40 389.30L290.90 394.10L285.90 394.10Z" fill="none" stroke="#2d83ff" stroke-width="0.95" stroke-linejoin="miter"/>
<path d="M283.00 380.80L285.50 385.60L280.50 385.60Z" fill="none" stroke="#2d83ff" stroke-width="0.95" stroke-linejoin="miter"/>
<circle cx="311.20" cy="380.70" r="2.45" fill="none" stroke="#dc2b2b" stroke-width="0.85"/>
<circle cx="310.80" cy="393.00" r="2.45" fill="none" stroke="#dc2b2b" stroke-width="0.85"/>
<circle cx="314.80" cy="391.40" r="2.45" fill="none" stroke="#dc2b2b" stroke-width="0.85"/>
<circle cx="311.90" cy="400.00" r="2.45" fill="none" stroke="#dc2b2b" stroke-width="0.85"/>
<circle cx="317.80" cy="410.90" r="2.45" fill="none" stroke="#dc2b2b" stroke-width="0.85"/>
<circle cx="315.70" cy="394.00" r="2.45" fill="none" stroke="#dc2b2b" stroke-width="0.85"/>
<line x1="58.70" y1="374.40" x2="58.70" y2="385.90" stroke="#0000ff" stroke-width="1.4"/><line x1="55.30" y1="374.40" x2="62.10" y2="374.40" stroke="#0000ff" stroke-width="1.4"/><line x1="55.30" y1="385.90" x2="62.10" y2="385.90" stroke="#0000ff" stroke-width="1.4"/>
<circle cx="58.70" cy="380.30" r="2.9" fill="#0000ff"/>
<line x1="88.80" y1="372.80" x2="88.80" y2="379.00" stroke="#ff0000" stroke-width="1.4"/><line x1="85.40" y1="372.80" x2="92.20" y2="372.80" stroke="#ff0000" stroke-width="1.4"/><line x1="85.40" y1="379.00" x2="92.20" y2="379.00" stroke="#ff0000" stroke-width="1.4"/>
<circle cx="88.80" cy="374.90" r="2.9" fill="#ff0000"/>
<line x1="134.70" y1="369.50" x2="134.70" y2="385.30" stroke="#0000ff" stroke-width="1.4"/><line x1="131.30" y1="369.50" x2="138.10" y2="369.50" stroke="#0000ff" stroke-width="1.4"/><line x1="131.30" y1="385.30" x2="138.10" y2="385.30" stroke="#0000ff" stroke-width="1.4"/>
<circle cx="134.70" cy="377.20" r="2.9" fill="#0000ff"/>
<line x1="164.60" y1="380.90" x2="164.60" y2="388.90" stroke="#ff0000" stroke-width="1.4"/><line x1="161.20" y1="380.90" x2="168.00" y2="380.90" stroke="#ff0000" stroke-width="1.4"/><line x1="161.20" y1="388.90" x2="168.00" y2="388.90" stroke="#ff0000" stroke-width="1.4"/>
<circle cx="164.60" cy="383.80" r="2.9" fill="#ff0000"/>
<line x1="210.70" y1="316.50" x2="210.70" y2="356.60" stroke="#0000ff" stroke-width="1.4"/><line x1="207.30" y1="316.50" x2="214.10" y2="316.50" stroke="#0000ff" stroke-width="1.4"/><line x1="207.30" y1="356.60" x2="214.10" y2="356.60" stroke="#0000ff" stroke-width="1.4"/>
<circle cx="210.70" cy="336.60" r="2.9" fill="#0000ff"/>
<line x1="240.80" y1="363.80" x2="240.80" y2="374.70" stroke="#ff0000" stroke-width="1.4"/><line x1="237.40" y1="363.80" x2="244.20" y2="363.80" stroke="#ff0000" stroke-width="1.4"/><line x1="237.40" y1="374.70" x2="244.20" y2="374.70" stroke="#ff0000" stroke-width="1.4"/>
<circle cx="240.80" cy="369.30" r="2.9" fill="#ff0000"/>
<line x1="285.70" y1="380.70" x2="285.70" y2="388.20" stroke="#0000ff" stroke-width="1.4"/><line x1="282.30" y1="380.70" x2="289.10" y2="380.70" stroke="#0000ff" stroke-width="1.4"/><line x1="282.30" y1="388.20" x2="289.10" y2="388.20" stroke="#0000ff" stroke-width="1.4"/>
<circle cx="285.70" cy="383.90" r="2.9" fill="#0000ff"/>
<line x1="316.20" y1="385.20" x2="316.20" y2="405.80" stroke="#ff0000" stroke-width="1.4"/><line x1="312.80" y1="385.20" x2="319.60" y2="385.20" stroke="#ff0000" stroke-width="1.4"/><line x1="312.80" y1="405.80" x2="319.60" y2="405.80" stroke="#ff0000" stroke-width="1.4"/>
<circle cx="316.20" cy="394.80" r="2.9" fill="#ff0000"/>
<rect x="36.6" y="290.6" width="302.7" height="126.9" fill="none" stroke="#505050" stroke-width="1.2"/>
<line x1="383.1" y1="122.94" x2="681.8" y2="122.94" stroke="#dbdbdb" stroke-width="0.9" stroke-dasharray="2.7 2.1"/>
<line x1="380.6" y1="122.94" x2="382.6" y2="122.94" stroke="#505050" stroke-width="1"/>
<line x1="681.7" y1="122.94" x2="683.3" y2="122.94" stroke="#505050" stroke-width="1"/>
<line x1="383.1" y1="115.47" x2="681.8" y2="115.47" stroke="#dbdbdb" stroke-width="0.9" stroke-dasharray="2.7 2.1"/>
<line x1="380.6" y1="115.47" x2="382.6" y2="115.47" stroke="#505050" stroke-width="1"/>
<line x1="681.7" y1="115.47" x2="683.3" y2="115.47" stroke="#505050" stroke-width="1"/>
<line x1="383.1" y1="108.01" x2="681.8" y2="108.01" stroke="#dbdbdb" stroke-width="0.9" stroke-dasharray="2.7 2.1"/>
<line x1="380.6" y1="108.01" x2="382.6" y2="108.01" stroke="#505050" stroke-width="1"/>
<line x1="681.7" y1="108.01" x2="683.3" y2="108.01" stroke="#505050" stroke-width="1"/>
<line x1="383.1" y1="100.54" x2="681.8" y2="100.54" stroke="#dbdbdb" stroke-width="0.9" stroke-dasharray="2.7 2.1"/>
<line x1="380.6" y1="100.54" x2="382.6" y2="100.54" stroke="#505050" stroke-width="1"/>
<line x1="681.7" y1="100.54" x2="683.3" y2="100.54" stroke="#505050" stroke-width="1"/>
<line x1="383.1" y1="93.08" x2="681.8" y2="93.08" stroke="#dbdbdb" stroke-width="0.9" stroke-dasharray="2.7 2.1"/>
<line x1="380.6" y1="93.08" x2="382.6" y2="93.08" stroke="#505050" stroke-width="1"/>
<line x1="681.7" y1="93.08" x2="683.3" y2="93.08" stroke="#505050" stroke-width="1"/>
<line x1="383.1" y1="85.61" x2="681.8" y2="85.61" stroke="#dbdbdb" stroke-width="0.9" stroke-dasharray="2.7 2.1"/>
<line x1="380.6" y1="85.61" x2="382.6" y2="85.61" stroke="#505050" stroke-width="1"/>
<line x1="681.7" y1="85.61" x2="683.3" y2="85.61" stroke="#505050" stroke-width="1"/>
<line x1="383.1" y1="78.15" x2="681.8" y2="78.15" stroke="#dbdbdb" stroke-width="0.9" stroke-dasharray="2.7 2.1"/>
<line x1="380.6" y1="78.15" x2="382.6" y2="78.15" stroke="#505050" stroke-width="1"/>
<line x1="681.7" y1="78.15" x2="683.3" y2="78.15" stroke="#505050" stroke-width="1"/>
<line x1="383.1" y1="70.68" x2="681.8" y2="70.68" stroke="#dbdbdb" stroke-width="0.9" stroke-dasharray="2.7 2.1"/>
<line x1="380.6" y1="70.68" x2="382.6" y2="70.68" stroke="#505050" stroke-width="1"/>
<line x1="681.7" y1="70.68" x2="683.3" y2="70.68" stroke="#505050" stroke-width="1"/>
<line x1="383.1" y1="63.22" x2="681.8" y2="63.22" stroke="#dbdbdb" stroke-width="0.9" stroke-dasharray="2.7 2.1"/>
<line x1="380.6" y1="63.22" x2="382.6" y2="63.22" stroke="#505050" stroke-width="1"/>
<line x1="681.7" y1="63.22" x2="683.3" y2="63.22" stroke="#505050" stroke-width="1"/>
<line x1="383.1" y1="55.75" x2="681.8" y2="55.75" stroke="#dbdbdb" stroke-width="0.9" stroke-dasharray="2.7 2.1"/>
<line x1="380.6" y1="55.75" x2="382.6" y2="55.75" stroke="#505050" stroke-width="1"/>
<line x1="681.7" y1="55.75" x2="683.3" y2="55.75" stroke="#505050" stroke-width="1"/>
<line x1="383.1" y1="48.29" x2="681.8" y2="48.29" stroke="#dbdbdb" stroke-width="0.9" stroke-dasharray="2.7 2.1"/>
<line x1="380.6" y1="48.29" x2="382.6" y2="48.29" stroke="#505050" stroke-width="1"/>
<line x1="681.7" y1="48.29" x2="683.3" y2="48.29" stroke="#505050" stroke-width="1"/>
<line x1="383.1" y1="40.82" x2="681.8" y2="40.82" stroke="#dbdbdb" stroke-width="0.9" stroke-dasharray="2.7 2.1"/>
<line x1="380.6" y1="40.82" x2="382.6" y2="40.82" stroke="#505050" stroke-width="1"/>
<line x1="681.7" y1="40.82" x2="683.3" y2="40.82" stroke="#505050" stroke-width="1"/>
<line x1="383.1" y1="33.36" x2="681.8" y2="33.36" stroke="#dbdbdb" stroke-width="0.9" stroke-dasharray="2.7 2.1"/>
<line x1="380.6" y1="33.36" x2="382.6" y2="33.36" stroke="#505050" stroke-width="1"/>
<line x1="681.7" y1="33.36" x2="683.3" y2="33.36" stroke="#505050" stroke-width="1"/>
<line x1="383.1" y1="25.89" x2="681.8" y2="25.89" stroke="#dbdbdb" stroke-width="0.9" stroke-dasharray="2.7 2.1"/>
<line x1="380.6" y1="25.89" x2="382.6" y2="25.89" stroke="#505050" stroke-width="1"/>
<line x1="681.7" y1="25.89" x2="683.3" y2="25.89" stroke="#505050" stroke-width="1"/>
<line x1="383.1" y1="18.43" x2="681.8" y2="18.43" stroke="#dbdbdb" stroke-width="0.9" stroke-dasharray="2.7 2.1"/>
<line x1="380.6" y1="18.43" x2="382.6" y2="18.43" stroke="#505050" stroke-width="1"/>
<line x1="681.7" y1="18.43" x2="683.3" y2="18.43" stroke="#505050" stroke-width="1"/>
<line x1="383.1" y1="10.96" x2="681.8" y2="10.96" stroke="#dbdbdb" stroke-width="0.9" stroke-dasharray="2.7 2.1"/>
<line x1="380.6" y1="10.96" x2="382.6" y2="10.96" stroke="#505050" stroke-width="1"/>
<line x1="681.7" y1="10.96" x2="683.3" y2="10.96" stroke="#505050" stroke-width="1"/>
<text x="377.0" y="133.00" text-anchor="end" font-size="6.8" fill="#1c1c1c">2.5</text>
<text x="377.0" y="118.07" text-anchor="end" font-size="6.8" fill="#1c1c1c">3.5</text>
<text x="377.0" y="103.14" text-anchor="end" font-size="6.8" fill="#1c1c1c">4.5</text>
<text x="377.0" y="88.21" text-anchor="end" font-size="6.8" fill="#1c1c1c">5.5</text>
<text x="377.0" y="73.28" text-anchor="end" font-size="6.8" fill="#1c1c1c">6.5</text>
<text x="377.0" y="58.35" text-anchor="end" font-size="6.8" fill="#1c1c1c">7.5</text>
<text x="377.0" y="43.42" text-anchor="end" font-size="6.8" fill="#1c1c1c">8.5</text>
<text x="377.0" y="28.49" text-anchor="end" font-size="6.8" fill="#1c1c1c">9.5</text>
<text x="377.0" y="13.56" text-anchor="end" font-size="6.8" fill="#1c1c1c">10.5</text>
<line x1="418.4" y1="128.4" x2="418.4" y2="130.4" stroke="#505050" stroke-width="1"/>
<line x1="494.1" y1="128.4" x2="494.1" y2="130.4" stroke="#505050" stroke-width="1"/>
<line x1="569.8" y1="128.4" x2="569.8" y2="130.4" stroke="#505050" stroke-width="1"/>
<line x1="645.5" y1="128.4" x2="645.5" y2="130.4" stroke="#505050" stroke-width="1"/>
<text x="354.1" y="66.6" transform="rotate(-90 354.1 66.6)" text-anchor="middle" font-size="8.8" fill="#1c1c1c">TBARS [nmol/l]</text>
<polyline points="402.90,55.70 478.30,53.50 554.50,46.60 629.70,60.10" fill="none" stroke="#3c3cff" stroke-width="1.05" stroke-dasharray="2.6 2.4"/>
<polyline points="433.40,44.20 508.30,86.40 584.60,80.60 660.30,94.70" fill="none" stroke="#ff3c3c" stroke-width="1.05" stroke-dasharray="2.6 2.4"/>
<path d="M404.40 31.30L406.90 36.10L401.90 36.10Z" fill="none" stroke="#2d83ff" stroke-width="0.95" stroke-linejoin="miter"/>
<path d="M407.40 35.80L409.90 40.60L404.90 40.60Z" fill="none" stroke="#2d83ff" stroke-width="0.95" stroke-linejoin="miter"/>
<path d="M405.60 47.40L408.10 52.20L403.10 52.20Z" fill="none" stroke="#2d83ff" stroke-width="0.95" stroke-linejoin="miter"/>
<path d="M398.50 52.70L401.00 57.50L396.00 57.50Z" fill="none" stroke="#2d83ff" stroke-width="0.95" stroke-linejoin="miter"/>
<path d="M398.00 58.50L400.50 63.30L395.50 63.30Z" fill="none" stroke="#2d83ff" stroke-width="0.95" stroke-linejoin="miter"/>
<path d="M399.50 67.20L402.00 72.00L397.00 72.00Z" fill="none" stroke="#2d83ff" stroke-width="0.95" stroke-linejoin="miter"/>
<path d="M396.50 83.70L399.00 88.50L394.00 88.50Z" fill="none" stroke="#2d83ff" stroke-width="0.95" stroke-linejoin="miter"/>
<circle cx="427.90" cy="31.70" r="2.45" fill="none" stroke="#dc2b2b" stroke-width="0.85"/>
<circle cx="427.90" cy="41.00" r="2.45" fill="none" stroke="#dc2b2b" stroke-width="0.85"/>
<circle cx="435.50" cy="36.60" r="2.45" fill="none" stroke="#dc2b2b" stroke-width="0.85"/>
<circle cx="434.60" cy="38.80" r="2.45" fill="none" stroke="#dc2b2b" stroke-width="0.85"/>
<circle cx="438.10" cy="55.70" r="2.45" fill="none" stroke="#dc2b2b" stroke-width="0.85"/>
<circle cx="436.80" cy="58.00" r="2.45" fill="none" stroke="#dc2b2b" stroke-width="0.85"/>
<path d="M481.30 26.60L483.80 31.40L478.80 31.40Z" fill="none" stroke="#2d83ff" stroke-width="0.95" stroke-linejoin="miter"/>
<path d="M475.30 31.10L477.80 35.90L472.80 35.90Z" fill="none" stroke="#2d83ff" stroke-width="0.95" stroke-linejoin="miter"/>
<path d="M476.80 41.00L479.30 45.80L474.30 45.80Z" fill="none" stroke="#2d83ff" stroke-width="0.95" stroke-linejoin="miter"/>
<path d="M476.50 45.40L479.00 50.20L474.00 50.20Z" fill="none" stroke="#2d83ff" stroke-width="0.95" stroke-linejoin="miter"/>
<path d="M474.40 53.00L476.90 57.80L471.90 57.80Z" fill="none" stroke="#2d83ff" stroke-width="0.95" stroke-linejoin="miter"/>
<path d="M480.40 77.10L482.90 81.90L477.90 81.90Z" fill="none" stroke="#2d83ff" stroke-width="0.95" stroke-linejoin="miter"/>
<path d="M484.30 82.50L486.80 87.30L481.80 87.30Z" fill="none" stroke="#2d83ff" stroke-width="0.95" stroke-linejoin="miter"/>
<circle cx="504.70" cy="73.00" r="2.45" fill="none" stroke="#dc2b2b" stroke-width="0.85"/>
<circle cx="514.20" cy="83.70" r="2.45" fill="none" stroke="#dc2b2b" stroke-width="0.85"/>
<circle cx="503.80" cy="90.80" r="2.45" fill="none" stroke="#dc2b2b" stroke-width="0.85"/>
<circle cx="506.50" cy="89.50" r="2.45" fill="none" stroke="#dc2b2b" stroke-width="0.85"/>
<circle cx="507.40" cy="93.50" r="2.45" fill="none" stroke="#dc2b2b" stroke-width="0.85"/>
<circle cx="508.30" cy="96.60" r="2.45" fill="none" stroke="#dc2b2b" stroke-width="0.85"/>
<path d="M559.60 16.00L562.10 20.80L557.10 20.80Z" fill="none" stroke="#2d83ff" stroke-width="0.95" stroke-linejoin="miter"/>
<path d="M553.60 32.90L556.10 37.70L551.10 37.70Z" fill="none" stroke="#2d83ff" stroke-width="0.95" stroke-linejoin="miter"/>
<path d="M556.60 39.50L559.10 44.30L554.10 44.30Z" fill="none" stroke="#2d83ff" stroke-width="0.95" stroke-linejoin="miter"/>
<path d="M550.60 46.10L553.10 50.90L548.10 50.90Z" fill="none" stroke="#2d83ff" stroke-width="0.95" stroke-linejoin="miter"/>
<path d="M558.10 44.90L560.60 49.70L555.60 49.70Z" fill="none" stroke="#2d83ff" stroke-width="0.95" stroke-linejoin="miter"/>
<path d="M555.70 59.90L558.20 64.70L553.20 64.70Z" fill="none" stroke="#2d83ff" stroke-width="0.95" stroke-linejoin="miter"/>
<path d="M550.00 73.20L552.50 78.00L547.50 78.00Z" fill="none" stroke="#2d83ff" stroke-width="0.95" stroke-linejoin="miter"/>
<circle cx="579.80" cy="62.20" r="2.45" fill="none" stroke="#dc2b2b" stroke-width="0.85"/>
<circle cx="589.70" cy="59.50" r="2.45" fill="none" stroke="#dc2b2b" stroke-width="0.85"/>
<circle cx="587.30" cy="81.80" r="2.45" fill="none" stroke="#dc2b2b" stroke-width="0.85"/>
<circle cx="587.50" cy="84.00" r="2.45" fill="none" stroke="#dc2b2b" stroke-width="0.85"/>
<circle cx="586.70" cy="97.70" r="2.45" fill="none" stroke="#dc2b2b" stroke-width="0.85"/>
<circle cx="579.20" cy="100.70" r="2.45" fill="none" stroke="#dc2b2b" stroke-width="0.85"/>
<path d="M626.70 29.00L629.20 33.80L624.20 33.80Z" fill="none" stroke="#2d83ff" stroke-width="0.95" stroke-linejoin="miter"/>
<path d="M633.30 41.90L635.80 46.70L630.80 46.70Z" fill="none" stroke="#2d83ff" stroke-width="0.95" stroke-linejoin="miter"/>
<path d="M631.80 53.90L634.30 58.70L629.30 58.70Z" fill="none" stroke="#2d83ff" stroke-width="0.95" stroke-linejoin="miter"/>
<path d="M626.40 66.00L628.90 70.80L623.90 70.80Z" fill="none" stroke="#2d83ff" stroke-width="0.95" stroke-linejoin="miter"/>
<path d="M630.30 68.70L632.80 73.50L627.80 73.50Z" fill="none" stroke="#2d83ff" stroke-width="0.95" stroke-linejoin="miter"/>
<path d="M628.20 71.10L630.70 75.90L625.70 75.90Z" fill="none" stroke="#2d83ff" stroke-width="0.95" stroke-linejoin="miter"/>
<path d="M635.40 83.10L637.90 87.90L632.90 87.90Z" fill="none" stroke="#2d83ff" stroke-width="0.95" stroke-linejoin="miter"/>
<circle cx="664.80" cy="58.60" r="2.45" fill="none" stroke="#dc2b2b" stroke-width="0.85"/>
<circle cx="665.70" cy="79.70" r="2.45" fill="none" stroke="#dc2b2b" stroke-width="0.85"/>
<circle cx="663.90" cy="94.70" r="2.45" fill="none" stroke="#dc2b2b" stroke-width="0.85"/>
<circle cx="663.90" cy="101.30" r="2.45" fill="none" stroke="#dc2b2b" stroke-width="0.85"/>
<circle cx="662.40" cy="115.80" r="2.45" fill="none" stroke="#dc2b2b" stroke-width="0.85"/>
<circle cx="658.80" cy="121.80" r="2.45" fill="none" stroke="#dc2b2b" stroke-width="0.85"/>
<line x1="402.90" y1="39.30" x2="402.90" y2="72.80" stroke="#0000ff" stroke-width="1.4"/><line x1="399.50" y1="39.30" x2="406.30" y2="39.30" stroke="#0000ff" stroke-width="1.4"/><line x1="399.50" y1="72.80" x2="406.30" y2="72.80" stroke="#0000ff" stroke-width="1.4"/>
<circle cx="402.90" cy="55.70" r="2.9" fill="#0000ff"/>
<line x1="433.40" y1="33.60" x2="433.40" y2="55.30" stroke="#ff0000" stroke-width="1.4"/><line x1="430.00" y1="33.60" x2="436.80" y2="33.60" stroke="#ff0000" stroke-width="1.4"/><line x1="430.00" y1="55.30" x2="436.80" y2="55.30" stroke="#ff0000" stroke-width="1.4"/>
<circle cx="433.40" cy="44.20" r="2.9" fill="#ff0000"/>
<line x1="478.30" y1="33.70" x2="478.30" y2="73.70" stroke="#0000ff" stroke-width="1.4"/><line x1="474.90" y1="33.70" x2="481.70" y2="33.70" stroke="#0000ff" stroke-width="1.4"/><line x1="474.90" y1="73.70" x2="481.70" y2="73.70" stroke="#0000ff" stroke-width="1.4"/>
<circle cx="478.30" cy="53.50" r="2.9" fill="#0000ff"/>
<line x1="508.30" y1="78.80" x2="508.30" y2="95.30" stroke="#ff0000" stroke-width="1.4"/><line x1="504.90" y1="78.80" x2="511.70" y2="78.80" stroke="#ff0000" stroke-width="1.4"/><line x1="504.90" y1="95.30" x2="511.70" y2="95.30" stroke="#ff0000" stroke-width="1.4"/>
<circle cx="508.30" cy="86.40" r="2.9" fill="#ff0000"/>
<line x1="554.50" y1="30.10" x2="554.50" y2="64.00" stroke="#0000ff" stroke-width="1.4"/><line x1="551.10" y1="30.10" x2="557.90" y2="30.10" stroke="#0000ff" stroke-width="1.4"/><line x1="551.10" y1="64.00" x2="557.90" y2="64.00" stroke="#0000ff" stroke-width="1.4"/>
<circle cx="554.50" cy="46.60" r="2.9" fill="#0000ff"/>
<line x1="584.60" y1="63.10" x2="584.60" y2="99.20" stroke="#ff0000" stroke-width="1.4"/><line x1="581.20" y1="63.10" x2="588.00" y2="63.10" stroke="#ff0000" stroke-width="1.4"/><line x1="581.20" y1="99.20" x2="588.00" y2="99.20" stroke="#ff0000" stroke-width="1.4"/>
<circle cx="584.60" cy="80.60" r="2.9" fill="#ff0000"/>
<line x1="629.70" y1="44.50" x2="629.70" y2="78.20" stroke="#0000ff" stroke-width="1.4"/><line x1="626.30" y1="44.50" x2="633.10" y2="44.50" stroke="#0000ff" stroke-width="1.4"/><line x1="626.30" y1="78.20" x2="633.10" y2="78.20" stroke="#0000ff" stroke-width="1.4"/>
<circle cx="629.70" cy="60.10" r="2.9" fill="#0000ff"/>
<line x1="660.30" y1="71.30" x2="660.30" y2="118.80" stroke="#ff0000" stroke-width="1.4"/><line x1="656.90" y1="71.30" x2="663.70" y2="71.30" stroke="#ff0000" stroke-width="1.4"/><line x1="656.90" y1="118.80" x2="663.70" y2="118.80" stroke="#ff0000" stroke-width="1.4"/>
<circle cx="660.30" cy="94.70" r="2.9" fill="#ff0000"/>
<rect x="380.6" y="3.5" width="302.7" height="126.9" fill="none" stroke="#505050" stroke-width="1.2"/>
<line x1="379.1" y1="263.54" x2="681.8" y2="263.54" stroke="#dbdbdb" stroke-width="0.9" stroke-dasharray="2.7 2.1"/>
<line x1="376.6" y1="263.54" x2="378.6" y2="263.54" stroke="#505050" stroke-width="1"/>
<line x1="681.7" y1="263.54" x2="683.3" y2="263.54" stroke="#505050" stroke-width="1"/>
<line x1="379.1" y1="252.98" x2="681.8" y2="252.98" stroke="#dbdbdb" stroke-width="0.9" stroke-dasharray="2.7 2.1"/>
<line x1="376.6" y1="252.98" x2="378.6" y2="252.98" stroke="#505050" stroke-width="1"/>
<line x1="681.7" y1="252.98" x2="683.3" y2="252.98" stroke="#505050" stroke-width="1"/>
<line x1="379.1" y1="242.41" x2="681.8" y2="242.41" stroke="#dbdbdb" stroke-width="0.9" stroke-dasharray="2.7 2.1"/>
<line x1="376.6" y1="242.41" x2="378.6" y2="242.41" stroke="#505050" stroke-width="1"/>
<line x1="681.7" y1="242.41" x2="683.3" y2="242.41" stroke="#505050" stroke-width="1"/>
<line x1="379.1" y1="231.85" x2="681.8" y2="231.85" stroke="#dbdbdb" stroke-width="0.9" stroke-dasharray="2.7 2.1"/>
<line x1="376.6" y1="231.85" x2="378.6" y2="231.85" stroke="#505050" stroke-width="1"/>
<line x1="681.7" y1="231.85" x2="683.3" y2="231.85" stroke="#505050" stroke-width="1"/>
<line x1="379.1" y1="221.29" x2="681.8" y2="221.29" stroke="#dbdbdb" stroke-width="0.9" stroke-dasharray="2.7 2.1"/>
<line x1="376.6" y1="221.29" x2="378.6" y2="221.29" stroke="#505050" stroke-width="1"/>
<line x1="681.7" y1="221.29" x2="683.3" y2="221.29" stroke="#505050" stroke-width="1"/>
<line x1="379.1" y1="210.72" x2="681.8" y2="210.72" stroke="#dbdbdb" stroke-width="0.9" stroke-dasharray="2.7 2.1"/>
<line x1="376.6" y1="210.72" x2="378.6" y2="210.72" stroke="#505050" stroke-width="1"/>
<line x1="681.7" y1="210.72" x2="683.3" y2="210.72" stroke="#505050" stroke-width="1"/>
<line x1="379.1" y1="200.16" x2="681.8" y2="200.16" stroke="#dbdbdb" stroke-width="0.9" stroke-dasharray="2.7 2.1"/>
<line x1="376.6" y1="200.16" x2="378.6" y2="200.16" stroke="#505050" stroke-width="1"/>
<line x1="681.7" y1="200.16" x2="683.3" y2="200.16" stroke="#505050" stroke-width="1"/>
<line x1="379.1" y1="189.60" x2="681.8" y2="189.60" stroke="#dbdbdb" stroke-width="0.9" stroke-dasharray="2.7 2.1"/>
<line x1="376.6" y1="189.60" x2="378.6" y2="189.60" stroke="#505050" stroke-width="1"/>
<line x1="681.7" y1="189.60" x2="683.3" y2="189.60" stroke="#505050" stroke-width="1"/>
<line x1="379.1" y1="179.04" x2="681.8" y2="179.04" stroke="#dbdbdb" stroke-width="0.9" stroke-dasharray="2.7 2.1"/>
<line x1="376.6" y1="179.04" x2="378.6" y2="179.04" stroke="#505050" stroke-width="1"/>
<line x1="681.7" y1="179.04" x2="683.3" y2="179.04" stroke="#505050" stroke-width="1"/>
<line x1="379.1" y1="168.48" x2="681.8" y2="168.48" stroke="#dbdbdb" stroke-width="0.9" stroke-dasharray="2.7 2.1"/>
<line x1="376.6" y1="168.48" x2="378.6" y2="168.48" stroke="#505050" stroke-width="1"/>
<line x1="681.7" y1="168.48" x2="683.3" y2="168.48" stroke="#505050" stroke-width="1"/>
<line x1="379.1" y1="157.91" x2="681.8" y2="157.91" stroke="#dbdbdb" stroke-width="0.9" stroke-dasharray="2.7 2.1"/>
<line x1="376.6" y1="157.91" x2="378.6" y2="157.91" stroke="#505050" stroke-width="1"/>
<line x1="681.7" y1="157.91" x2="683.3" y2="157.91" stroke="#505050" stroke-width="1"/>
<text x="373.0" y="276.70" text-anchor="end" font-size="6.8" fill="#1c1c1c">1.2</text>
<text x="373.0" y="266.14" text-anchor="end" font-size="6.8" fill="#1c1c1c">1.4</text>
<text x="373.0" y="255.58" text-anchor="end" font-size="6.8" fill="#1c1c1c">1.6</text>
<text x="373.0" y="245.01" text-anchor="end" font-size="6.8" fill="#1c1c1c">1.8</text>
<text x="373.0" y="234.45" text-anchor="end" font-size="6.8" fill="#1c1c1c">2.0</text>
<text x="373.0" y="223.89" text-anchor="end" font-size="6.8" fill="#1c1c1c">2.2</text>
<text x="373.0" y="213.32" text-anchor="end" font-size="6.8" fill="#1c1c1c">2.4</text>
<text x="373.0" y="202.76" text-anchor="end" font-size="6.8" fill="#1c1c1c">2.6</text>
<text x="373.0" y="192.20" text-anchor="end" font-size="6.8" fill="#1c1c1c">2.8</text>
<text x="373.0" y="181.64" text-anchor="end" font-size="6.8" fill="#1c1c1c">3.0</text>
<text x="373.0" y="171.08" text-anchor="end" font-size="6.8" fill="#1c1c1c">3.2</text>
<text x="373.0" y="160.51" text-anchor="end" font-size="6.8" fill="#1c1c1c">3.4</text>
<text x="373.0" y="149.95" text-anchor="end" font-size="6.8" fill="#1c1c1c">3.6</text>
<line x1="414.9" y1="272.1" x2="414.9" y2="274.1" stroke="#505050" stroke-width="1"/>
<line x1="491.6" y1="272.1" x2="491.6" y2="274.1" stroke="#505050" stroke-width="1"/>
<line x1="568.3" y1="272.1" x2="568.3" y2="274.1" stroke="#505050" stroke-width="1"/>
<line x1="645.0" y1="272.1" x2="645.0" y2="274.1" stroke="#505050" stroke-width="1"/>
<text x="354.1" y="209.8" transform="rotate(-90 354.1 209.8)" text-anchor="middle" font-size="8.8" fill="#1c1c1c">SOD [U/L]</text>
<polyline points="399.40,195.00 476.00,186.40 553.00,178.10 629.20,185.90" fill="none" stroke="#3c3cff" stroke-width="1.05" stroke-dasharray="2.6 2.4"/>
<polyline points="430.20,193.80 506.90,206.10 583.30,208.00 659.70,248.50" fill="none" stroke="#ff3c3c" stroke-width="1.05" stroke-dasharray="2.6 2.4"/>
<path d="M395.10 188.40L397.60 193.20L392.60 193.20Z" fill="none" stroke="#2d83ff" stroke-width="0.95" stroke-linejoin="miter"/>
<path d="M398.20 187.30L400.70 192.10L395.70 192.10Z" fill="none" stroke="#2d83ff" stroke-width="0.95" stroke-linejoin="miter"/>
<path d="M394.70 190.80L397.20 195.60L392.20 195.60Z" fill="none" stroke="#2d83ff" stroke-width="0.95" stroke-linejoin="miter"/>
<path d="M403.80 192.80L406.30 197.60L401.30 197.60Z" fill="none" stroke="#2d83ff" stroke-width="0.95" stroke-linejoin="miter"/>
<path d="M405.30 194.60L407.80 199.40L402.80 199.40Z" fill="none" stroke="#2d83ff" stroke-width="0.95" stroke-linejoin="miter"/>
<path d="M394.30 201.00L396.80 205.80L391.80 205.80Z" fill="none" stroke="#2d83ff" stroke-width="0.95" stroke-linejoin="miter"/>
<path d="M396.70 190.00L399.20 194.80L394.20 194.80Z" fill="none" stroke="#2d83ff" stroke-width="0.95" stroke-linejoin="miter"/>
<circle cx="424.20" cy="189.90" r="2.45" fill="none" stroke="#dc2b2b" stroke-width="0.85"/>
<circle cx="435.10" cy="187.90" r="2.45" fill="none" stroke="#dc2b2b" stroke-width="0.85"/>
<circle cx="429.80" cy="189.90" r="2.45" fill="none" stroke="#dc2b2b" stroke-width="0.85"/>
<circle cx="435.30" cy="194.20" r="2.45" fill="none" stroke="#dc2b2b" stroke-width="0.85"/>
<circle cx="434.50" cy="195.40" r="2.45" fill="none" stroke="#dc2b2b" stroke-width="0.85"/>
<circle cx="430.90" cy="208.00" r="2.45" fill="none" stroke="#dc2b2b" stroke-width="0.85"/>
<path d="M469.50 180.10L472.00 184.90L467.00 184.90Z" fill="none" stroke="#2d83ff" stroke-width="0.95" stroke-linejoin="miter"/>
<path d="M473.00 180.10L475.50 184.90L470.50 184.90Z" fill="none" stroke="#2d83ff" stroke-width="0.95" stroke-linejoin="miter"/>
<path d="M480.00 184.10L482.50 188.90L477.50 188.90Z" fill="none" stroke="#2d83ff" stroke-width="0.95" stroke-linejoin="miter"/>
<path d="M471.00 185.10L473.50 189.90L468.50 189.90Z" fill="none" stroke="#2d83ff" stroke-width="0.95" stroke-linejoin="miter"/>
<path d="M474.00 182.80L476.50 187.60L471.50 187.60Z" fill="none" stroke="#2d83ff" stroke-width="0.95" stroke-linejoin="miter"/>
<path d="M477.00 194.80L479.50 199.60L474.50 199.60Z" fill="none" stroke="#2d83ff" stroke-width="0.95" stroke-linejoin="miter"/>
<path d="M472.00 186.10L474.50 190.90L469.50 190.90Z" fill="none" stroke="#2d83ff" stroke-width="0.95" stroke-linejoin="miter"/>
<circle cx="507.80" cy="156.20" r="2.45" fill="none" stroke="#dc2b2b" stroke-width="0.85"/>
<circle cx="510.90" cy="189.90" r="2.45" fill="none" stroke="#dc2b2b" stroke-width="0.85"/>
<circle cx="510.60" cy="211.70" r="2.45" fill="none" stroke="#dc2b2b" stroke-width="0.85"/>
<circle cx="502.20" cy="217.00" r="2.45" fill="none" stroke="#dc2b2b" stroke-width="0.85"/>
<circle cx="506.90" cy="228.30" r="2.45" fill="none" stroke="#dc2b2b" stroke-width="0.85"/>
<circle cx="504.70" cy="234.20" r="2.45" fill="none" stroke="#dc2b2b" stroke-width="0.85"/>
<path d="M554.60 159.90L557.10 164.70L552.10 164.70Z" fill="none" stroke="#2d83ff" stroke-width="0.95" stroke-linejoin="miter"/>
<path d="M556.20 167.00L558.70 171.80L553.70 171.80Z" fill="none" stroke="#2d83ff" stroke-width="0.95" stroke-linejoin="miter"/>
<path d="M549.90 170.20L552.40 175.00L547.40 175.00Z" fill="none" stroke="#2d83ff" stroke-width="0.95" stroke-linejoin="miter"/>
<path d="M549.00 173.30L551.50 178.10L546.50 178.10Z" fill="none" stroke="#2d83ff" stroke-width="0.95" stroke-linejoin="miter"/>
<path d="M555.20 221.60L557.70 226.40L552.70 226.40Z" fill="none" stroke="#2d83ff" stroke-width="0.95" stroke-linejoin="miter"/>
<path d="M552.00 173.40L554.50 178.20L549.50 178.20Z" fill="none" stroke="#2d83ff" stroke-width="0.95" stroke-linejoin="miter"/>
<path d="M554.00 176.40L556.50 181.20L551.50 181.20Z" fill="none" stroke="#2d83ff" stroke-width="0.95" stroke-linejoin="miter"/>
<circle cx="583.90" cy="170.60" r="2.45" fill="none" stroke="#dc2b2b" stroke-width="0.85"/>
<circle cx="588.00" cy="196.80" r="2.45" fill="none" stroke="#dc2b2b" stroke-width="0.85"/>
<circle cx="578.60" cy="200.80" r="2.45" fill="none" stroke="#dc2b2b" stroke-width="0.85"/>
<circle cx="588.00" cy="225.80" r="2.45" fill="none" stroke="#dc2b2b" stroke-width="0.85"/>
<circle cx="578.60" cy="226.70" r="2.45" fill="none" stroke="#dc2b2b" stroke-width="0.85"/>
<circle cx="584.90" cy="232.60" r="2.45" fill="none" stroke="#dc2b2b" stroke-width="0.85"/>
<path d="M623.80 160.80L626.30 165.60L621.30 165.60Z" fill="none" stroke="#2d83ff" stroke-width="0.95" stroke-linejoin="miter"/>
<path d="M631.00 167.00L633.50 171.80L628.50 171.80Z" fill="none" stroke="#2d83ff" stroke-width="0.95" stroke-linejoin="miter"/>
<path d="M624.80 174.80L627.30 179.60L622.30 179.60Z" fill="none" stroke="#2d83ff" stroke-width="0.95" stroke-linejoin="miter"/>
<path d="M624.80 183.60L627.30 188.40L622.30 188.40Z" fill="none" stroke="#2d83ff" stroke-width="0.95" stroke-linejoin="miter"/>
<path d="M627.90 187.30L630.40 192.10L625.40 192.10Z" fill="none" stroke="#2d83ff" stroke-width="0.95" stroke-linejoin="miter"/>
<path d="M627.00 198.20L629.50 203.00L624.50 203.00Z" fill="none" stroke="#2d83ff" stroke-width="0.95" stroke-linejoin="miter"/>
<path d="M630.10 215.40L632.60 220.20L627.60 220.20Z" fill="none" stroke="#2d83ff" stroke-width="0.95" stroke-linejoin="miter"/>
<circle cx="654.10" cy="233.60" r="2.45" fill="none" stroke="#dc2b2b" stroke-width="0.85"/>
<circle cx="663.50" cy="240.40" r="2.45" fill="none" stroke="#dc2b2b" stroke-width="0.85"/>
<circle cx="666.00" cy="243.60" r="2.45" fill="none" stroke="#dc2b2b" stroke-width="0.85"/>
<circle cx="654.10" cy="252.90" r="2.45" fill="none" stroke="#dc2b2b" stroke-width="0.85"/>
<circle cx="660.30" cy="253.80" r="2.45" fill="none" stroke="#dc2b2b" stroke-width="0.85"/>
<circle cx="666.00" cy="268.50" r="2.45" fill="none" stroke="#dc2b2b" stroke-width="0.85"/>
<line x1="399.40" y1="191.70" x2="399.40" y2="199.10" stroke="#0000ff" stroke-width="1.4"/><line x1="396.00" y1="191.70" x2="402.80" y2="191.70" stroke="#0000ff" stroke-width="1.4"/><line x1="396.00" y1="199.10" x2="402.80" y2="199.10" stroke="#0000ff" stroke-width="1.4"/>
<circle cx="399.40" cy="195.00" r="2.9" fill="#0000ff"/>
<line x1="430.20" y1="186.30" x2="430.20" y2="201.70" stroke="#ff0000" stroke-width="1.4"/><line x1="426.80" y1="186.30" x2="433.60" y2="186.30" stroke="#ff0000" stroke-width="1.4"/><line x1="426.80" y1="201.70" x2="433.60" y2="201.70" stroke="#ff0000" stroke-width="1.4"/>
<circle cx="430.20" cy="193.80" r="2.9" fill="#ff0000"/>
<line x1="476.00" y1="182.60" x2="476.00" y2="191.50" stroke="#0000ff" stroke-width="1.4"/><line x1="472.60" y1="182.60" x2="479.40" y2="182.60" stroke="#0000ff" stroke-width="1.4"/><line x1="472.60" y1="191.50" x2="479.40" y2="191.50" stroke="#0000ff" stroke-width="1.4"/>
<circle cx="476.00" cy="186.40" r="2.9" fill="#0000ff"/>
<line x1="506.90" y1="175.90" x2="506.90" y2="236.10" stroke="#ff0000" stroke-width="1.4"/><line x1="503.50" y1="175.90" x2="510.30" y2="175.90" stroke="#ff0000" stroke-width="1.4"/><line x1="503.50" y1="236.10" x2="510.30" y2="236.10" stroke="#ff0000" stroke-width="1.4"/>
<circle cx="506.90" cy="206.10" r="2.9" fill="#ff0000"/>
<line x1="553.00" y1="159.30" x2="553.00" y2="197.70" stroke="#0000ff" stroke-width="1.4"/><line x1="549.60" y1="159.30" x2="556.40" y2="159.30" stroke="#0000ff" stroke-width="1.4"/><line x1="549.60" y1="197.70" x2="556.40" y2="197.70" stroke="#0000ff" stroke-width="1.4"/>
<circle cx="553.00" cy="178.10" r="2.9" fill="#0000ff"/>
<line x1="583.30" y1="183.70" x2="583.30" y2="233.60" stroke="#ff0000" stroke-width="1.4"/><line x1="579.90" y1="183.70" x2="586.70" y2="183.70" stroke="#ff0000" stroke-width="1.4"/><line x1="579.90" y1="233.60" x2="586.70" y2="233.60" stroke="#ff0000" stroke-width="1.4"/>
<circle cx="583.30" cy="208.00" r="2.9" fill="#ff0000"/>
<line x1="629.20" y1="168.70" x2="629.20" y2="203.30" stroke="#0000ff" stroke-width="1.4"/><line x1="625.80" y1="168.70" x2="632.60" y2="168.70" stroke="#0000ff" stroke-width="1.4"/><line x1="625.80" y1="203.30" x2="632.60" y2="203.30" stroke="#0000ff" stroke-width="1.4"/>
<circle cx="629.20" cy="185.90" r="2.9" fill="#0000ff"/>
<line x1="659.70" y1="236.10" x2="659.70" y2="261.00" stroke="#ff0000" stroke-width="1.4"/><line x1="656.30" y1="236.10" x2="663.10" y2="236.10" stroke="#ff0000" stroke-width="1.4"/><line x1="656.30" y1="261.00" x2="663.10" y2="261.00" stroke="#ff0000" stroke-width="1.4"/>
<circle cx="659.70" cy="248.50" r="2.9" fill="#ff0000"/>
<rect x="376.6" y="147.3" width="306.7" height="126.8" fill="none" stroke="#505050" stroke-width="1.2"/>
<line x1="377.1" y1="410.46" x2="681.8" y2="410.46" stroke="#dbdbdb" stroke-width="0.9" stroke-dasharray="2.7 2.1"/>
<line x1="374.6" y1="410.46" x2="376.6" y2="410.46" stroke="#505050" stroke-width="1"/>
<line x1="681.7" y1="410.46" x2="683.3" y2="410.46" stroke="#505050" stroke-width="1"/>
<line x1="377.1" y1="403.42" x2="681.8" y2="403.42" stroke="#dbdbdb" stroke-width="0.9" stroke-dasharray="2.7 2.1"/>
<line x1="374.6" y1="403.42" x2="376.6" y2="403.42" stroke="#505050" stroke-width="1"/>
<line x1="681.7" y1="403.42" x2="683.3" y2="403.42" stroke="#505050" stroke-width="1"/>
<line x1="377.1" y1="396.38" x2="681.8" y2="396.38" stroke="#dbdbdb" stroke-width="0.9" stroke-dasharray="2.7 2.1"/>
<line x1="374.6" y1="396.38" x2="376.6" y2="396.38" stroke="#505050" stroke-width="1"/>
<line x1="681.7" y1="396.38" x2="683.3" y2="396.38" stroke="#505050" stroke-width="1"/>
<line x1="377.1" y1="389.34" x2="681.8" y2="389.34" stroke="#dbdbdb" stroke-width="0.9" stroke-dasharray="2.7 2.1"/>
<line x1="374.6" y1="389.34" x2="376.6" y2="389.34" stroke="#505050" stroke-width="1"/>
<line x1="681.7" y1="389.34" x2="683.3" y2="389.34" stroke="#505050" stroke-width="1"/>
<line x1="377.1" y1="382.31" x2="681.8" y2="382.31" stroke="#dbdbdb" stroke-width="0.9" stroke-dasharray="2.7 2.1"/>
<line x1="374.6" y1="382.31" x2="376.6" y2="382.31" stroke="#505050" stroke-width="1"/>
<line x1="681.7" y1="382.31" x2="683.3" y2="382.31" stroke="#505050" stroke-width="1"/>
<line x1="377.1" y1="375.27" x2="681.8" y2="375.27" stroke="#dbdbdb" stroke-width="0.9" stroke-dasharray="2.7 2.1"/>
<line x1="374.6" y1="375.27" x2="376.6" y2="375.27" stroke="#505050" stroke-width="1"/>
<line x1="681.7" y1="375.27" x2="683.3" y2="375.27" stroke="#505050" stroke-width="1"/>
<line x1="377.1" y1="368.23" x2="681.8" y2="368.23" stroke="#dbdbdb" stroke-width="0.9" stroke-dasharray="2.7 2.1"/>
<line x1="374.6" y1="368.23" x2="376.6" y2="368.23" stroke="#505050" stroke-width="1"/>
<line x1="681.7" y1="368.23" x2="683.3" y2="368.23" stroke="#505050" stroke-width="1"/>
<line x1="377.1" y1="361.19" x2="681.8" y2="361.19" stroke="#dbdbdb" stroke-width="0.9" stroke-dasharray="2.7 2.1"/>
<line x1="374.6" y1="361.19" x2="376.6" y2="361.19" stroke="#505050" stroke-width="1"/>
<line x1="681.7" y1="361.19" x2="683.3" y2="361.19" stroke="#505050" stroke-width="1"/>
<line x1="377.1" y1="354.15" x2="681.8" y2="354.15" stroke="#dbdbdb" stroke-width="0.9" stroke-dasharray="2.7 2.1"/>
<line x1="374.6" y1="354.15" x2="376.6" y2="354.15" stroke="#505050" stroke-width="1"/>
<line x1="681.7" y1="354.15" x2="683.3" y2="354.15" stroke="#505050" stroke-width="1"/>
<line x1="377.1" y1="347.11" x2="681.8" y2="347.11" stroke="#dbdbdb" stroke-width="0.9" stroke-dasharray="2.7 2.1"/>
<line x1="374.6" y1="347.11" x2="376.6" y2="347.11" stroke="#505050" stroke-width="1"/>
<line x1="681.7" y1="347.11" x2="683.3" y2="347.11" stroke="#505050" stroke-width="1"/>
<line x1="377.1" y1="340.07" x2="681.8" y2="340.07" stroke="#dbdbdb" stroke-width="0.9" stroke-dasharray="2.7 2.1"/>
<line x1="374.6" y1="340.07" x2="376.6" y2="340.07" stroke="#505050" stroke-width="1"/>
<line x1="681.7" y1="340.07" x2="683.3" y2="340.07" stroke="#505050" stroke-width="1"/>
<line x1="377.1" y1="333.03" x2="681.8" y2="333.03" stroke="#dbdbdb" stroke-width="0.9" stroke-dasharray="2.7 2.1"/>
<line x1="374.6" y1="333.03" x2="376.6" y2="333.03" stroke="#505050" stroke-width="1"/>
<line x1="681.7" y1="333.03" x2="683.3" y2="333.03" stroke="#505050" stroke-width="1"/>
<line x1="377.1" y1="325.99" x2="681.8" y2="325.99" stroke="#dbdbdb" stroke-width="0.9" stroke-dasharray="2.7 2.1"/>
<line x1="374.6" y1="325.99" x2="376.6" y2="325.99" stroke="#505050" stroke-width="1"/>
<line x1="681.7" y1="325.99" x2="683.3" y2="325.99" stroke="#505050" stroke-width="1"/>
<line x1="377.1" y1="318.96" x2="681.8" y2="318.96" stroke="#dbdbdb" stroke-width="0.9" stroke-dasharray="2.7 2.1"/>
<line x1="374.6" y1="318.96" x2="376.6" y2="318.96" stroke="#505050" stroke-width="1"/>
<line x1="681.7" y1="318.96" x2="683.3" y2="318.96" stroke="#505050" stroke-width="1"/>
<line x1="377.1" y1="311.92" x2="681.8" y2="311.92" stroke="#dbdbdb" stroke-width="0.9" stroke-dasharray="2.7 2.1"/>
<line x1="374.6" y1="311.92" x2="376.6" y2="311.92" stroke="#505050" stroke-width="1"/>
<line x1="681.7" y1="311.92" x2="683.3" y2="311.92" stroke="#505050" stroke-width="1"/>
<line x1="377.1" y1="304.88" x2="681.8" y2="304.88" stroke="#dbdbdb" stroke-width="0.9" stroke-dasharray="2.7 2.1"/>
<line x1="374.6" y1="304.88" x2="376.6" y2="304.88" stroke="#505050" stroke-width="1"/>
<line x1="681.7" y1="304.88" x2="683.3" y2="304.88" stroke="#505050" stroke-width="1"/>
<line x1="377.1" y1="297.84" x2="681.8" y2="297.84" stroke="#dbdbdb" stroke-width="0.9" stroke-dasharray="2.7 2.1"/>
<line x1="374.6" y1="297.84" x2="376.6" y2="297.84" stroke="#505050" stroke-width="1"/>
<line x1="681.7" y1="297.84" x2="683.3" y2="297.84" stroke="#505050" stroke-width="1"/>
<text x="371.0" y="420.10" text-anchor="end" font-size="6.8" fill="#1c1c1c">5</text>
<text x="371.0" y="406.02" text-anchor="end" font-size="6.8" fill="#1c1c1c">7</text>
<text x="371.0" y="391.94" text-anchor="end" font-size="6.8" fill="#1c1c1c">9</text>
<text x="371.0" y="377.87" text-anchor="end" font-size="6.8" fill="#1c1c1c">11</text>
<text x="371.0" y="363.79" text-anchor="end" font-size="6.8" fill="#1c1c1c">13</text>
<text x="371.0" y="349.71" text-anchor="end" font-size="6.8" fill="#1c1c1c">15</text>
<text x="371.0" y="335.63" text-anchor="end" font-size="6.8" fill="#1c1c1c">17</text>
<text x="371.0" y="321.56" text-anchor="end" font-size="6.8" fill="#1c1c1c">19</text>
<text x="371.0" y="307.48" text-anchor="end" font-size="6.8" fill="#1c1c1c">21</text>
<text x="371.0" y="293.40" text-anchor="end" font-size="6.8" fill="#1c1c1c">23</text>
<line x1="413.2" y1="415.5" x2="413.2" y2="417.5" stroke="#505050" stroke-width="1"/>
<line x1="490.4" y1="415.5" x2="490.4" y2="417.5" stroke="#505050" stroke-width="1"/>
<line x1="567.5" y1="415.5" x2="567.5" y2="417.5" stroke="#505050" stroke-width="1"/>
<line x1="644.7" y1="415.5" x2="644.7" y2="417.5" stroke="#505050" stroke-width="1"/>
<text x="354.1" y="359.0" transform="rotate(-90 354.1 359.0)" text-anchor="middle" font-size="8.8" fill="#1c1c1c">CAT [U/L]</text>
<polyline points="397.80,341.90 474.70,331.80 552.10,334.90 629.20,334.00" fill="none" stroke="#3c3cff" stroke-width="1.05" stroke-dasharray="2.6 2.4"/>
<polyline points="428.20,373.40 505.30,366.70 582.70,368.60 659.70,369.80" fill="none" stroke="#ff3c3c" stroke-width="1.05" stroke-dasharray="2.6 2.4"/>
<path d="M397.80 321.30L400.30 326.10L395.30 326.10Z" fill="none" stroke="#2d83ff" stroke-width="0.95" stroke-linejoin="miter"/>
<path d="M403.20 329.20L405.70 334.00L400.70 334.00Z" fill="none" stroke="#2d83ff" stroke-width="0.95" stroke-linejoin="miter"/>
<path d="M403.20 337.60L405.70 342.40L400.70 342.40Z" fill="none" stroke="#2d83ff" stroke-width="0.95" stroke-linejoin="miter"/>
<path d="M393.90 340.90L396.40 345.70L391.40 345.70Z" fill="none" stroke="#2d83ff" stroke-width="0.95" stroke-linejoin="miter"/>
<path d="M402.50 369.10L405.00 373.90L400.00 373.90Z" fill="none" stroke="#2d83ff" stroke-width="0.95" stroke-linejoin="miter"/>
<circle cx="434.70" cy="347.70" r="2.45" fill="none" stroke="#dc2b2b" stroke-width="0.85"/>
<circle cx="422.40" cy="358.70" r="2.45" fill="none" stroke="#dc2b2b" stroke-width="0.85"/>
<circle cx="425.90" cy="364.70" r="2.45" fill="none" stroke="#dc2b2b" stroke-width="0.85"/>
<circle cx="422.80" cy="371.00" r="2.45" fill="none" stroke="#dc2b2b" stroke-width="0.85"/>
<circle cx="429.80" cy="384.60" r="2.45" fill="none" stroke="#dc2b2b" stroke-width="0.85"/>
<circle cx="429.80" cy="413.10" r="2.45" fill="none" stroke="#dc2b2b" stroke-width="0.85"/>
<path d="M468.80 312.70L471.30 317.50L466.30 317.50Z" fill="none" stroke="#2d83ff" stroke-width="0.95" stroke-linejoin="miter"/>
<path d="M474.10 312.70L476.60 317.50L471.60 317.50Z" fill="none" stroke="#2d83ff" stroke-width="0.95" stroke-linejoin="miter"/>
<path d="M479.40 312.70L481.90 317.50L476.90 317.50Z" fill="none" stroke="#2d83ff" stroke-width="0.95" stroke-linejoin="miter"/>
<path d="M476.60 377.50L479.10 382.30L474.10 382.30Z" fill="none" stroke="#2d83ff" stroke-width="0.95" stroke-linejoin="miter"/>
<circle cx="501.60" cy="342.70" r="2.45" fill="none" stroke="#dc2b2b" stroke-width="0.85"/>
<circle cx="507.50" cy="341.10" r="2.45" fill="none" stroke="#dc2b2b" stroke-width="0.85"/>
<circle cx="500.00" cy="356.10" r="2.45" fill="none" stroke="#dc2b2b" stroke-width="0.85"/>
<circle cx="500.60" cy="372.30" r="2.45" fill="none" stroke="#dc2b2b" stroke-width="0.85"/>
<circle cx="502.80" cy="387.90" r="2.45" fill="none" stroke="#dc2b2b" stroke-width="0.85"/>
<circle cx="510.00" cy="399.80" r="2.45" fill="none" stroke="#dc2b2b" stroke-width="0.85"/>
<path d="M557.40 310.50L559.90 315.30L554.90 315.30Z" fill="none" stroke="#2d83ff" stroke-width="0.95" stroke-linejoin="miter"/>
<path d="M547.40 339.50L549.90 344.30L544.90 344.30Z" fill="none" stroke="#2d83ff" stroke-width="0.95" stroke-linejoin="miter"/>
<path d="M554.60 339.50L557.10 344.30L552.10 344.30Z" fill="none" stroke="#2d83ff" stroke-width="0.95" stroke-linejoin="miter"/>
<path d="M551.00 339.50L553.50 344.30L548.50 344.30Z" fill="none" stroke="#2d83ff" stroke-width="0.95" stroke-linejoin="miter"/>
<circle cx="582.40" cy="323.10" r="2.45" fill="none" stroke="#dc2b2b" stroke-width="0.85"/>
<circle cx="579.20" cy="331.80" r="2.45" fill="none" stroke="#dc2b2b" stroke-width="0.85"/>
<circle cx="588.60" cy="349.60" r="2.45" fill="none" stroke="#dc2b2b" stroke-width="0.85"/>
<circle cx="587.00" cy="394.80" r="2.45" fill="none" stroke="#dc2b2b" stroke-width="0.85"/>
<circle cx="587.00" cy="406.60" r="2.45" fill="none" stroke="#dc2b2b" stroke-width="0.85"/>
<circle cx="577.10" cy="408.80" r="2.45" fill="none" stroke="#dc2b2b" stroke-width="0.85"/>
<path d="M630.70 314.50L633.20 319.30L628.20 319.30Z" fill="none" stroke="#2d83ff" stroke-width="0.95" stroke-linejoin="miter"/>
<path d="M629.50 329.20L632.00 334.00L627.00 334.00Z" fill="none" stroke="#2d83ff" stroke-width="0.95" stroke-linejoin="miter"/>
<path d="M627.00 339.50L629.50 344.30L624.50 344.30Z" fill="none" stroke="#2d83ff" stroke-width="0.95" stroke-linejoin="miter"/>
<path d="M633.80 339.20L636.30 344.00L631.30 344.00Z" fill="none" stroke="#2d83ff" stroke-width="0.95" stroke-linejoin="miter"/>
<path d="M630.00 339.40L632.50 344.20L627.50 344.20Z" fill="none" stroke="#2d83ff" stroke-width="0.95" stroke-linejoin="miter"/>
<circle cx="663.80" cy="334.00" r="2.45" fill="none" stroke="#dc2b2b" stroke-width="0.85"/>
<circle cx="663.50" cy="340.50" r="2.45" fill="none" stroke="#dc2b2b" stroke-width="0.85"/>
<circle cx="660.70" cy="374.50" r="2.45" fill="none" stroke="#dc2b2b" stroke-width="0.85"/>
<circle cx="656.60" cy="385.70" r="2.45" fill="none" stroke="#dc2b2b" stroke-width="0.85"/>
<circle cx="661.30" cy="392.60" r="2.45" fill="none" stroke="#dc2b2b" stroke-width="0.85"/>
<circle cx="664.40" cy="393.20" r="2.45" fill="none" stroke="#dc2b2b" stroke-width="0.85"/>
<line x1="397.80" y1="319.20" x2="397.80" y2="364.70" stroke="#0000ff" stroke-width="1.4"/><line x1="394.40" y1="319.20" x2="401.20" y2="319.20" stroke="#0000ff" stroke-width="1.4"/><line x1="394.40" y1="364.70" x2="401.20" y2="364.70" stroke="#0000ff" stroke-width="1.4"/>
<circle cx="397.80" cy="341.90" r="2.9" fill="#0000ff"/>
<line x1="428.20" y1="348.90" x2="428.20" y2="397.40" stroke="#ff0000" stroke-width="1.4"/><line x1="424.80" y1="348.90" x2="431.60" y2="348.90" stroke="#ff0000" stroke-width="1.4"/><line x1="424.80" y1="397.40" x2="431.60" y2="397.40" stroke="#ff0000" stroke-width="1.4"/>
<circle cx="428.20" cy="373.40" r="2.9" fill="#ff0000"/>
<line x1="474.70" y1="297.50" x2="474.70" y2="366.10" stroke="#0000ff" stroke-width="1.4"/><line x1="471.30" y1="297.50" x2="478.10" y2="297.50" stroke="#0000ff" stroke-width="1.4"/><line x1="471.30" y1="366.10" x2="478.10" y2="366.10" stroke="#0000ff" stroke-width="1.4"/>
<circle cx="474.70" cy="331.80" r="2.9" fill="#0000ff"/>
<line x1="505.30" y1="341.10" x2="505.30" y2="391.70" stroke="#ff0000" stroke-width="1.4"/><line x1="501.90" y1="341.10" x2="508.70" y2="341.10" stroke="#ff0000" stroke-width="1.4"/><line x1="501.90" y1="391.70" x2="508.70" y2="391.70" stroke="#ff0000" stroke-width="1.4"/>
<circle cx="505.30" cy="366.70" r="2.9" fill="#ff0000"/>
<line x1="552.10" y1="318.70" x2="552.10" y2="350.50" stroke="#0000ff" stroke-width="1.4"/><line x1="548.70" y1="318.70" x2="555.50" y2="318.70" stroke="#0000ff" stroke-width="1.4"/><line x1="548.70" y1="350.50" x2="555.50" y2="350.50" stroke="#0000ff" stroke-width="1.4"/>
<circle cx="552.10" cy="334.90" r="2.9" fill="#0000ff"/>
<line x1="582.70" y1="328.00" x2="582.70" y2="409.10" stroke="#ff0000" stroke-width="1.4"/><line x1="579.30" y1="328.00" x2="586.10" y2="328.00" stroke="#ff0000" stroke-width="1.4"/><line x1="579.30" y1="409.10" x2="586.10" y2="409.10" stroke="#ff0000" stroke-width="1.4"/>
<circle cx="582.70" cy="368.60" r="2.9" fill="#ff0000"/>
<line x1="629.20" y1="321.50" x2="629.20" y2="346.80" stroke="#0000ff" stroke-width="1.4"/><line x1="625.80" y1="321.50" x2="632.60" y2="321.50" stroke="#0000ff" stroke-width="1.4"/><line x1="625.80" y1="346.80" x2="632.60" y2="346.80" stroke="#0000ff" stroke-width="1.4"/>
<circle cx="629.20" cy="334.00" r="2.9" fill="#0000ff"/>
<line x1="659.70" y1="342.10" x2="659.70" y2="397.90" stroke="#ff0000" stroke-width="1.4"/><line x1="656.30" y1="342.10" x2="663.10" y2="342.10" stroke="#ff0000" stroke-width="1.4"/><line x1="656.30" y1="397.90" x2="663.10" y2="397.90" stroke="#ff0000" stroke-width="1.4"/>
<circle cx="659.70" cy="369.80" r="2.9" fill="#ff0000"/>
<rect x="374.6" y="290.8" width="308.7" height="126.7" fill="none" stroke="#505050" stroke-width="1.2"/>
<line x1="91.2" y1="100.5" x2="149.05" y2="82.47" stroke="#2a2a2a" stroke-width="0.85"/>
<path d="M154.40 80.80L149.65 84.38L148.46 80.56Z" fill="#1a1a1a"/>
<polygon points="117.20,85.80 117.85,87.11 119.29,87.32 118.25,88.34 118.49,89.78 117.20,89.10 115.91,89.78 116.15,88.34 115.11,87.32 116.55,87.11" fill="#1a1a1a"/>
<line x1="138.7" y1="98.2" x2="197.99" y2="40.51" stroke="#2a2a2a" stroke-width="0.85"/>
<path d="M202.00 36.60L199.38 41.94L196.59 39.07Z" fill="#1a1a1a"/>
<polygon points="175.99,54.32 176.63,55.63 178.08,55.84 177.03,56.86 177.28,58.30 175.99,57.62 174.70,58.30 174.94,56.86 173.90,55.84 175.34,55.63" fill="#1a1a1a"/>
<polygon points="179.50,50.90 180.15,52.21 181.59,52.42 180.55,53.44 180.79,54.88 179.50,54.20 178.21,54.88 178.45,53.44 177.41,52.42 178.85,52.21" fill="#1a1a1a"/>
<polygon points="183.01,47.48 183.66,48.79 185.10,49.00 184.06,50.02 184.30,51.46 183.01,50.78 181.72,51.46 181.97,50.02 180.92,49.00 182.37,48.79" fill="#1a1a1a"/>
<line x1="169.8" y1="80.6" x2="230.11" y2="38.31" stroke="#2a2a2a" stroke-width="0.85"/>
<path d="M234.70 35.10L231.26 39.95L228.97 36.68Z" fill="#1a1a1a"/>
<polygon points="188.99,71.71 189.63,73.02 191.08,73.23 190.03,74.25 190.28,75.69 188.99,75.01 187.69,75.69 187.94,74.25 186.90,73.23 188.34,73.02" fill="#1a1a1a"/>
<polygon points="193.00,68.90 193.65,70.21 195.09,70.42 194.05,71.44 194.29,72.88 193.00,72.20 191.71,72.88 191.95,71.44 190.91,70.42 192.35,70.21" fill="#1a1a1a"/>
<polygon points="197.01,66.09 197.66,67.40 199.10,67.61 198.06,68.63 198.31,70.07 197.01,69.39 195.72,70.07 195.97,68.63 194.92,67.61 196.37,67.40" fill="#1a1a1a"/>
<line x1="97.6" y1="214.9" x2="153.24" y2="244.19" stroke="#2a2a2a" stroke-width="0.85"/>
<path d="M158.20 246.80L152.31 245.96L154.18 242.42Z" fill="#1a1a1a"/>
<polygon points="142.83,229.06 143.48,230.37 144.92,230.58 143.88,231.60 144.13,233.04 142.83,232.36 141.54,233.04 141.79,231.60 140.74,230.58 142.19,230.37" fill="#1a1a1a"/>
<polygon points="147.17,231.34 147.81,232.65 149.26,232.86 148.21,233.88 148.46,235.32 147.17,234.64 145.87,235.32 146.12,233.88 145.08,232.86 146.52,232.65" fill="#1a1a1a"/>
<line x1="142.1" y1="370.5" x2="194.62" y2="341.04" stroke="#2a2a2a" stroke-width="0.85"/>
<path d="M199.50 338.30L195.59 342.78L193.64 339.30Z" fill="#1a1a1a"/>
<polygon points="160.33,351.60 160.97,352.91 162.42,353.12 161.37,354.14 161.62,355.58 160.33,354.90 159.03,355.58 159.28,354.14 158.23,353.12 159.68,352.91" fill="#1a1a1a"/>
<polygon points="164.60,349.20 165.25,350.51 166.69,350.72 165.65,351.74 165.89,353.18 164.60,352.50 163.31,353.18 163.55,351.74 162.51,350.72 163.95,350.51" fill="#1a1a1a"/>
<polygon points="168.87,346.80 169.52,348.11 170.97,348.32 169.92,349.34 170.17,350.78 168.87,350.10 167.58,350.78 167.83,349.34 166.78,348.32 168.23,348.11" fill="#1a1a1a"/>
<line x1="441.6" y1="45.1" x2="498.96" y2="78.48" stroke="#2a2a2a" stroke-width="0.85"/>
<path d="M503.80 81.30L497.95 80.21L499.97 76.75Z" fill="#1a1a1a"/>
<polygon points="489.38,65.07 490.03,66.38 491.47,66.59 490.43,67.61 490.68,69.05 489.38,68.37 488.09,69.05 488.34,67.61 487.29,66.59 488.74,66.38" fill="#1a1a1a"/>
<polygon points="493.62,67.53 494.26,68.84 495.71,69.05 494.66,70.07 494.91,71.51 493.62,70.83 492.32,71.51 492.57,70.07 491.53,69.05 492.97,68.84" fill="#1a1a1a"/>
<line x1="590.5" y1="208.6" x2="653.23" y2="241.31" stroke="#2a2a2a" stroke-width="0.85"/>
<path d="M658.20 243.90L652.31 243.08L654.16 239.54Z" fill="#1a1a1a"/>
<polygon points="636.63,225.57 637.27,226.88 638.72,227.09 637.67,228.11 637.92,229.55 636.63,228.87 635.33,229.55 635.58,228.11 634.54,227.09 635.98,226.88" fill="#1a1a1a"/>
<polygon points="640.97,227.83 641.62,229.14 643.06,229.35 642.02,230.37 642.27,231.81 640.97,231.13 639.68,231.81 639.93,230.37 638.88,229.35 640.33,229.14" fill="#1a1a1a"/>
<line x1="137.9" y1="68.9" x2="162.9" y2="68.9" stroke="#9a9a9a" stroke-width="1.3"/>
<polygon points="151.40,63.30 152.05,64.61 153.49,64.82 152.45,65.84 152.69,67.28 151.40,66.60 150.11,67.28 150.35,65.84 149.31,64.82 150.75,64.61" fill="#1a1a1a"/>
<line x1="287.0" y1="46.7" x2="314.9" y2="46.7" stroke="#999" stroke-width="1.3"/>
<polygon points="297.40,41.50 298.05,42.81 299.49,43.02 298.45,44.04 298.69,45.48 297.40,44.80 296.11,45.48 296.35,44.04 295.31,43.02 296.75,42.81" fill="#1a1a1a"/>
<polygon points="302.40,41.50 303.05,42.81 304.49,43.02 303.45,44.04 303.69,45.48 302.40,44.80 301.11,45.48 301.35,44.04 300.31,43.02 301.75,42.81" fill="#1a1a1a"/>
<polygon points="307.40,41.50 308.05,42.81 309.49,43.02 308.45,44.04 308.69,45.48 307.40,44.80 306.11,45.48 306.35,44.04 305.31,43.02 306.75,42.81" fill="#1a1a1a"/>
<line x1="132.5" y1="196.5" x2="160.2" y2="196.5" stroke="#333" stroke-width="1.0"/>
<polygon points="143.50,190.00 144.15,191.31 145.59,191.52 144.55,192.54 144.79,193.98 143.50,193.30 142.21,193.98 142.45,192.54 141.41,191.52 142.85,191.31" fill="#1a1a1a"/>
<polygon points="148.50,190.00 149.15,191.31 150.59,191.52 149.55,192.54 149.79,193.98 148.50,193.30 147.21,193.98 147.45,192.54 146.41,191.52 147.85,191.31" fill="#1a1a1a"/>
<line x1="208.5" y1="157.5" x2="236.2" y2="157.5" stroke="#333" stroke-width="1.0"/>
<polygon points="219.10,150.00 219.75,151.31 221.19,151.52 220.15,152.54 220.39,153.98 219.10,153.30 217.81,153.98 218.05,152.54 217.01,151.52 218.45,151.31" fill="#1a1a1a"/>
<polygon points="224.10,150.00 224.75,151.31 226.19,151.52 225.15,152.54 225.39,153.98 224.10,153.30 222.81,153.98 223.05,152.54 222.01,151.52 223.45,151.31" fill="#1a1a1a"/>
<line x1="210.7" y1="298.6" x2="239.2" y2="298.6" stroke="#333" stroke-width="1.0"/>
<polygon points="218.70,292.60 219.35,293.91 220.79,294.12 219.75,295.14 219.99,296.58 218.70,295.90 217.41,296.58 217.65,295.14 216.61,294.12 218.05,293.91" fill="#1a1a1a"/>
<polygon points="223.70,292.60 224.35,293.91 225.79,294.12 224.75,295.14 224.99,296.58 223.70,295.90 222.41,296.58 222.65,295.14 221.61,294.12 223.05,293.91" fill="#1a1a1a"/>
<polygon points="228.70,292.60 229.35,293.91 230.79,294.12 229.75,295.14 229.99,296.58 228.70,295.90 227.41,296.58 227.65,295.14 226.61,294.12 228.05,293.91" fill="#1a1a1a"/>
<line x1="478.0" y1="24.8" x2="506.8" y2="24.8" stroke="#999" stroke-width="1.3"/>
<polygon points="492.20,19.60 492.85,20.91 494.29,21.12 493.25,22.14 493.49,23.58 492.20,22.90 490.91,23.58 491.15,22.14 490.11,21.12 491.55,20.91" fill="#1a1a1a"/>
<line x1="556.0" y1="15.0" x2="584.3" y2="15.0" stroke="#999" stroke-width="1.3"/>
<polygon points="570.10,9.40 570.75,10.71 572.19,10.92 571.15,11.94 571.39,13.38 570.10,12.70 568.81,13.38 569.05,11.94 568.01,10.92 569.45,10.71" fill="#1a1a1a"/>
<line x1="631.2" y1="27.7" x2="658.2" y2="27.7" stroke="#999" stroke-width="1.3"/>
<polygon points="644.70,22.00 645.35,23.31 646.79,23.52 645.75,24.54 645.99,25.98 644.70,25.30 643.41,25.98 643.65,24.54 642.61,23.52 644.05,23.31" fill="#1a1a1a"/>
<line x1="626.9" y1="158.5" x2="663.1" y2="158.5" stroke="#444" stroke-width="1.0"/>
<polygon points="641.30,151.90 641.95,153.21 643.39,153.42 642.35,154.44 642.59,155.88 641.30,155.20 640.01,155.88 640.25,154.44 639.21,153.42 640.65,153.21" fill="#1a1a1a"/>
<polygon points="646.30,151.90 646.95,153.21 648.39,153.42 647.35,154.44 647.59,155.88 646.30,155.20 645.01,155.88 645.25,154.44 644.21,153.42 645.65,153.21" fill="#1a1a1a"/>
<polygon points="651.30,151.90 651.95,153.21 653.39,153.42 652.35,154.44 652.59,155.88 651.30,155.20 650.01,155.88 650.25,154.44 649.21,153.42 650.65,153.21" fill="#1a1a1a"/>
<line x1="137.9" y1="69.5" x2="154.3" y2="69.5" stroke="#333" stroke-width="1"/>
<text x="74.4" y="428.0" text-anchor="middle" font-size="8.7" fill="#1c1c1c">T0</text>
<text x="150.1" y="428.0" text-anchor="middle" font-size="8.7" fill="#1c1c1c">T1-0</text>
<text x="225.8" y="428.0" text-anchor="middle" font-size="8.7" fill="#1c1c1c">T1-1</text>
<text x="301.5" y="428.0" text-anchor="middle" font-size="8.7" fill="#1c1c1c">T1-2</text>
<text x="413.2" y="428.0" text-anchor="middle" font-size="8.7" fill="#1c1c1c">T0</text>
<text x="490.4" y="428.0" text-anchor="middle" font-size="8.7" fill="#1c1c1c">T1-0</text>
<text x="567.5" y="428.0" text-anchor="middle" font-size="8.7" fill="#1c1c1c">T1-1</text>
<text x="644.7" y="428.0" text-anchor="middle" font-size="8.7" fill="#1c1c1c">T1-2</text>
<text x="344.2" y="447.5" text-anchor="middle" font-size="10" fill="#1c1c1c">Time</text>
<rect x="55.5" y="9.8" width="94" height="9.4" fill="#fff"/>
<rect x="55.5" y="19.6" width="78" height="9.4" fill="#fff"/>
<line x1="44.10" y1="10.30" x2="44.10" y2="18.30" stroke="#ff0000" stroke-width="1.4"/><line x1="40.70" y1="10.30" x2="47.50" y2="10.30" stroke="#ff0000" stroke-width="1.4"/><line x1="40.70" y1="18.30" x2="47.50" y2="18.30" stroke="#ff0000" stroke-width="1.4"/>
<circle cx="44.10" cy="14.10" r="2.9" fill="#ff0000"/>
<circle cx="52.50" cy="14.40" r="2.45" fill="none" stroke="#dc2b2b" stroke-width="0.85"/>
<line x1="44.10" y1="20.20" x2="44.10" y2="28.30" stroke="#0000ff" stroke-width="1.4"/><line x1="40.70" y1="20.20" x2="47.50" y2="20.20" stroke="#0000ff" stroke-width="1.4"/><line x1="40.70" y1="28.30" x2="47.50" y2="28.30" stroke="#0000ff" stroke-width="1.4"/>
<circle cx="44.10" cy="24.00" r="2.9" fill="#0000ff"/>
<path d="M52.50 21.70L55.00 26.50L50.00 26.50Z" fill="none" stroke="#2d83ff" stroke-width="0.95" stroke-linejoin="miter"/>
<text x="56" y="17.3" font-size="8.75" fill="#1c1c1c">Astaxanthin group (n=6)</text>
<text x="56" y="27.2" font-size="8.75" fill="#1c1c1c">Control group (n=7)</text>
</svg>
</body></html>
